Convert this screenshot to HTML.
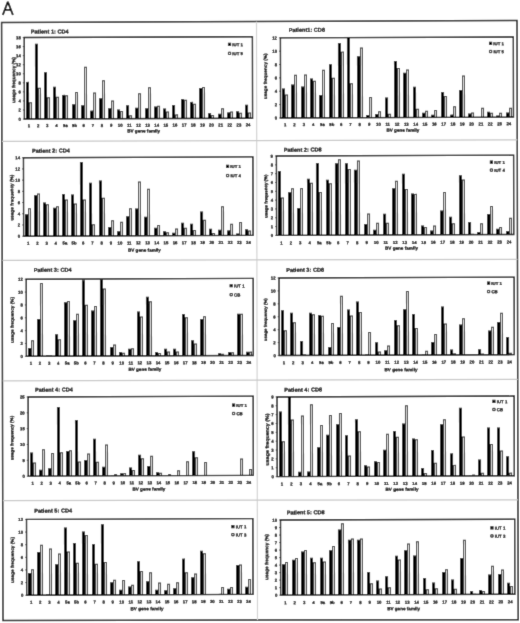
<!DOCTYPE html>
<html><head><meta charset="utf-8"><style>
html,body{margin:0;padding:0;background:#fff;}
body{width:520px;height:623px;overflow:hidden;}
svg{display:block;}
#w{filter:grayscale(1);width:520px;height:623px;}
text{font-family:"Liberation Sans",sans-serif;fill:#000;stroke:#000;stroke-width:0.25px;}
</style></head><body>
<div id="w"><svg width="520" height="623" viewBox="0 0 520 623">
<defs><filter id="bl" x="0" y="0" width="520" height="623" filterUnits="userSpaceOnUse"><feConvolveMatrix order="3" kernelMatrix="0.0114 0.084 0.0114 0.084 0.618 0.084 0.0114 0.084 0.0114" edgeMode="duplicate" preserveAlpha="true"/></filter></defs><g filter="url(#bl)"><rect width="520" height="623" fill="#fff"/>
<path d="M2.8,15.0 L7.85,1.75 L12.9,15.0 M4.9,9.85 H10.8" fill="none" stroke="#000" stroke-width="1.9" stroke-linejoin="bevel"/>
<polygon points="1.6,22.5 517,20.4 518.2,619.7 3.0,620.5" fill="none" stroke="#111" stroke-width="1.5"/>
<line x1="256.5" y1="21.5" x2="257.5" y2="620" stroke="#d4d4d4" stroke-width="1.2"/>
<line x1="2" y1="141.3" x2="517.5" y2="139.8" stroke="#c8c8c8" stroke-width="1.2"/>
<line x1="2.3" y1="260.4" x2="517.6" y2="259.3" stroke="#c8c8c8" stroke-width="1.2"/>
<line x1="2.5" y1="380.8" x2="517.8" y2="379.3" stroke="#c8c8c8" stroke-width="1.2"/>
<line x1="2.9" y1="500.6" x2="518" y2="499.8" stroke="#c8c8c8" stroke-width="1.2"/>
<g transform="translate(138.4 77.85) matrix(1 -0.0037 0.0022 1 0 0) translate(-138.4 -77.85)"><rect x="26" y="81.47" width="3" height="37.13" fill="#000"/>
<rect x="29" y="101.85" width="3" height="16.75" fill="#2a2a2a"/>
<rect x="30" y="102.85" width="1" height="15.75" fill="#d8d8d8"/>
<rect x="35" y="43.44" width="3" height="75.16" fill="#000"/>
<rect x="38" y="87.36" width="3" height="31.24" fill="#2a2a2a"/>
<rect x="39" y="88.36" width="1" height="30.24" fill="#d8d8d8"/>
<rect x="44" y="71.96" width="3" height="46.64" fill="#000"/>
<rect x="47" y="96.87" width="3" height="21.73" fill="#2a2a2a"/>
<rect x="48" y="97.87" width="1" height="20.73" fill="#d8d8d8"/>
<rect x="53" y="86.45" width="3" height="32.15" fill="#000"/>
<rect x="56" y="96.41" width="3" height="22.19" fill="#2a2a2a"/>
<rect x="57" y="97.41" width="1" height="21.19" fill="#d8d8d8"/>
<rect x="62" y="94.6" width="3" height="24" fill="#000"/>
<rect x="65" y="95.06" width="3" height="23.54" fill="#2a2a2a"/>
<rect x="66" y="96.06" width="1" height="22.54" fill="#d8d8d8"/>
<rect x="72" y="104.11" width="3" height="14.49" fill="#000"/>
<rect x="75" y="91.89" width="3" height="26.71" fill="#2a2a2a"/>
<rect x="76" y="92.89" width="1" height="25.71" fill="#d8d8d8"/>
<rect x="81" y="105.02" width="3" height="13.58" fill="#000"/>
<rect x="84" y="66.53" width="3" height="52.07" fill="#2a2a2a"/>
<rect x="85" y="67.53" width="1" height="51.07" fill="#d8d8d8"/>
<rect x="90" y="110.45" width="3" height="8.15" fill="#000"/>
<rect x="93" y="92.34" width="3" height="26.26" fill="#2a2a2a"/>
<rect x="94" y="93.34" width="1" height="25.26" fill="#d8d8d8"/>
<rect x="99" y="98.22" width="3" height="20.38" fill="#000"/>
<rect x="102" y="80.11" width="3" height="38.49" fill="#2a2a2a"/>
<rect x="103" y="81.11" width="1" height="37.49" fill="#d8d8d8"/>
<rect x="108" y="108.19" width="3" height="10.41" fill="#000"/>
<rect x="111" y="100.49" width="3" height="18.11" fill="#2a2a2a"/>
<rect x="112" y="101.49" width="1" height="17.11" fill="#d8d8d8"/>
<rect x="117" y="109.54" width="3" height="9.06" fill="#000"/>
<rect x="120" y="110.9" width="3" height="7.7" fill="#2a2a2a"/>
<rect x="121" y="111.9" width="1" height="6.7" fill="#d8d8d8"/>
<rect x="126" y="105.24" width="3" height="13.36" fill="#000"/>
<rect x="129" y="115.2" width="3" height="3.4" fill="#2a2a2a"/>
<rect x="130" y="116.2" width="1" height="2.4" fill="#d8d8d8"/>
<rect x="135" y="107.73" width="3" height="10.87" fill="#000"/>
<rect x="138" y="93.24" width="3" height="25.36" fill="#2a2a2a"/>
<rect x="139" y="94.24" width="1" height="24.36" fill="#d8d8d8"/>
<rect x="145" y="108.19" width="3" height="10.41" fill="#000"/>
<rect x="148" y="87.36" width="3" height="31.24" fill="#2a2a2a"/>
<rect x="149" y="88.36" width="1" height="30.24" fill="#d8d8d8"/>
<rect x="154" y="106.6" width="3" height="12" fill="#000"/>
<rect x="157" y="105.92" width="3" height="12.68" fill="#2a2a2a"/>
<rect x="158" y="106.92" width="1" height="11.68" fill="#d8d8d8"/>
<rect x="163" y="108.64" width="3" height="9.96" fill="#000"/>
<rect x="166" y="111.58" width="3" height="7.02" fill="#2a2a2a"/>
<rect x="167" y="112.58" width="1" height="6.02" fill="#d8d8d8"/>
<rect x="172" y="105.24" width="3" height="13.36" fill="#000"/>
<rect x="175" y="114.52" width="3" height="4.08" fill="#2a2a2a"/>
<rect x="176" y="115.52" width="1" height="3.08" fill="#d8d8d8"/>
<rect x="181" y="99.13" width="3" height="19.47" fill="#000"/>
<rect x="184" y="99.81" width="3" height="18.79" fill="#2a2a2a"/>
<rect x="185" y="100.81" width="1" height="17.79" fill="#d8d8d8"/>
<rect x="190" y="102.07" width="3" height="16.53" fill="#000"/>
<rect x="193" y="103.88" width="3" height="14.72" fill="#2a2a2a"/>
<rect x="194" y="104.88" width="1" height="13.72" fill="#d8d8d8"/>
<rect x="199" y="88.26" width="3" height="30.34" fill="#000"/>
<rect x="202" y="87.36" width="3" height="31.24" fill="#2a2a2a"/>
<rect x="203" y="88.36" width="1" height="30.24" fill="#d8d8d8"/>
<rect x="208" y="113.39" width="3" height="5.21" fill="#000"/>
<rect x="211" y="115.2" width="3" height="3.4" fill="#2a2a2a"/>
<rect x="212" y="116.2" width="1" height="2.4" fill="#d8d8d8"/>
<rect x="218" y="114.07" width="3" height="4.53" fill="#000"/>
<rect x="221" y="108.64" width="3" height="9.96" fill="#2a2a2a"/>
<rect x="222" y="109.64" width="1" height="8.96" fill="#d8d8d8"/>
<rect x="227" y="112.71" width="3" height="5.89" fill="#000"/>
<rect x="230" y="111.81" width="3" height="6.79" fill="#2a2a2a"/>
<rect x="231" y="112.81" width="1" height="5.79" fill="#d8d8d8"/>
<rect x="236" y="111.58" width="3" height="7.02" fill="#000"/>
<rect x="239" y="113.17" width="3" height="5.43" fill="#2a2a2a"/>
<rect x="240" y="114.17" width="1" height="4.43" fill="#d8d8d8"/>
<rect x="245" y="105.24" width="3" height="13.36" fill="#000"/>
<rect x="248" y="112.94" width="3" height="5.66" fill="#2a2a2a"/>
<rect x="249" y="113.94" width="1" height="4.66" fill="#d8d8d8"/>
<rect x="24.3" y="37.1" width="228.2" height="81.5" fill="none" stroke="#000" stroke-width="1.4"/>
<line x1="22.8" y1="118.6" x2="24.3" y2="118.6" stroke="#000" stroke-width="0.6"/>
<text x="20.9" y="120.2" text-anchor="end" font-size="4.3" font-weight="bold">0</text>
<line x1="22.8" y1="109.54" x2="24.3" y2="109.54" stroke="#000" stroke-width="0.6"/>
<text x="20.9" y="111.14" text-anchor="end" font-size="4.3" font-weight="bold">2</text>
<line x1="22.8" y1="100.49" x2="24.3" y2="100.49" stroke="#000" stroke-width="0.6"/>
<text x="20.9" y="102.09" text-anchor="end" font-size="4.3" font-weight="bold">4</text>
<line x1="22.8" y1="91.43" x2="24.3" y2="91.43" stroke="#000" stroke-width="0.6"/>
<text x="20.9" y="93.03" text-anchor="end" font-size="4.3" font-weight="bold">6</text>
<line x1="22.8" y1="82.38" x2="24.3" y2="82.38" stroke="#000" stroke-width="0.6"/>
<text x="20.9" y="83.98" text-anchor="end" font-size="4.3" font-weight="bold">8</text>
<line x1="22.8" y1="73.32" x2="24.3" y2="73.32" stroke="#000" stroke-width="0.6"/>
<text x="20.9" y="74.92" text-anchor="end" font-size="4.3" font-weight="bold">10</text>
<line x1="22.8" y1="64.27" x2="24.3" y2="64.27" stroke="#000" stroke-width="0.6"/>
<text x="20.9" y="65.87" text-anchor="end" font-size="4.3" font-weight="bold">12</text>
<line x1="22.8" y1="55.21" x2="24.3" y2="55.21" stroke="#000" stroke-width="0.6"/>
<text x="20.9" y="56.81" text-anchor="end" font-size="4.3" font-weight="bold">14</text>
<line x1="22.8" y1="46.16" x2="24.3" y2="46.16" stroke="#000" stroke-width="0.6"/>
<text x="20.9" y="47.76" text-anchor="end" font-size="4.3" font-weight="bold">16</text>
<line x1="22.8" y1="37.1" x2="24.3" y2="37.1" stroke="#000" stroke-width="0.6"/>
<text x="20.9" y="38.7" text-anchor="end" font-size="4.3" font-weight="bold">18</text>
<text x="28.86" y="126.75" text-anchor="middle" font-size="4.3" font-weight="bold">1</text>
<text x="37.99" y="126.75" text-anchor="middle" font-size="4.3" font-weight="bold">2</text>
<text x="47.12" y="126.75" text-anchor="middle" font-size="4.3" font-weight="bold">3</text>
<text x="56.25" y="126.75" text-anchor="middle" font-size="4.3" font-weight="bold">4</text>
<text x="65.38" y="126.75" text-anchor="middle" font-size="4.3" font-weight="bold">5a</text>
<text x="74.5" y="126.75" text-anchor="middle" font-size="4.3" font-weight="bold">5b</text>
<text x="83.63" y="126.75" text-anchor="middle" font-size="4.3" font-weight="bold">6</text>
<text x="92.76" y="126.75" text-anchor="middle" font-size="4.3" font-weight="bold">7</text>
<text x="101.89" y="126.75" text-anchor="middle" font-size="4.3" font-weight="bold">8</text>
<text x="111.02" y="126.75" text-anchor="middle" font-size="4.3" font-weight="bold">9</text>
<text x="120.14" y="126.75" text-anchor="middle" font-size="4.3" font-weight="bold">10</text>
<text x="129.27" y="126.75" text-anchor="middle" font-size="4.3" font-weight="bold">11</text>
<text x="138.4" y="126.75" text-anchor="middle" font-size="4.3" font-weight="bold">12</text>
<text x="147.53" y="126.75" text-anchor="middle" font-size="4.3" font-weight="bold">13</text>
<text x="156.66" y="126.75" text-anchor="middle" font-size="4.3" font-weight="bold">14</text>
<text x="165.78" y="126.75" text-anchor="middle" font-size="4.3" font-weight="bold">15</text>
<text x="174.91" y="126.75" text-anchor="middle" font-size="4.3" font-weight="bold">16</text>
<text x="184.04" y="126.75" text-anchor="middle" font-size="4.3" font-weight="bold">17</text>
<text x="193.17" y="126.75" text-anchor="middle" font-size="4.3" font-weight="bold">18</text>
<text x="202.3" y="126.75" text-anchor="middle" font-size="4.3" font-weight="bold">19</text>
<text x="211.42" y="126.75" text-anchor="middle" font-size="4.3" font-weight="bold">20</text>
<text x="220.55" y="126.75" text-anchor="middle" font-size="4.3" font-weight="bold">21</text>
<text x="229.68" y="126.75" text-anchor="middle" font-size="4.3" font-weight="bold">22</text>
<text x="238.81" y="126.75" text-anchor="middle" font-size="4.3" font-weight="bold">23</text>
<text x="247.94" y="126.75" text-anchor="middle" font-size="4.3" font-weight="bold">24</text>
<text x="143.55" y="132.5" text-anchor="middle" font-size="4.6" font-weight="bold">BV gene family</text>
<text x="15.2" y="79.6" text-anchor="middle" font-size="4.7" font-weight="bold" transform="rotate(-90 15.2 79.6)">usage frequency (%)</text>
<text x="30.8" y="33.2" font-size="5.6" font-weight="bold">Patient 1: CD4</text>
<rect x="228" y="43.2" width="3.2" height="3.2" fill="#000"/>
<rect x="228.45" y="52.55" width="2.3" height="2.3" fill="#eee" stroke="#000" stroke-width="0.95"/>
<text x="232.4" y="46.6" font-size="4.35" font-weight="bold">IUT 1</text>
<text x="232.4" y="55.5" font-size="4.35" font-weight="bold">IUT 5</text></g>
<g transform="translate(138.28 196.53) matrix(1 -0.0037 0.0022 1 0 0) translate(-138.28 -196.53)"><rect x="25" y="213.9" width="3" height="21.85" fill="#000"/>
<rect x="28" y="207.73" width="3" height="28.02" fill="#2a2a2a"/>
<rect x="29" y="208.73" width="1" height="27.02" fill="#d8d8d8"/>
<rect x="34" y="194.84" width="3" height="40.91" fill="#000"/>
<rect x="37" y="193.16" width="3" height="42.59" fill="#2a2a2a"/>
<rect x="38" y="194.16" width="1" height="41.59" fill="#d8d8d8"/>
<rect x="43" y="202.13" width="3" height="33.62" fill="#000"/>
<rect x="46" y="203.81" width="3" height="31.94" fill="#2a2a2a"/>
<rect x="47" y="204.81" width="1" height="30.94" fill="#d8d8d8"/>
<rect x="53" y="207.45" width="3" height="28.3" fill="#000"/>
<rect x="56" y="206.05" width="3" height="29.7" fill="#2a2a2a"/>
<rect x="57" y="207.05" width="1" height="28.7" fill="#d8d8d8"/>
<rect x="62" y="193.72" width="3" height="42.03" fill="#000"/>
<rect x="65" y="199.33" width="3" height="36.42" fill="#2a2a2a"/>
<rect x="66" y="200.33" width="1" height="35.42" fill="#d8d8d8"/>
<rect x="71" y="194.28" width="3" height="41.47" fill="#000"/>
<rect x="74" y="203.25" width="3" height="32.5" fill="#2a2a2a"/>
<rect x="75" y="204.25" width="1" height="31.5" fill="#d8d8d8"/>
<rect x="80" y="161.78" width="3" height="73.97" fill="#000"/>
<rect x="83" y="199.33" width="3" height="36.42" fill="#2a2a2a"/>
<rect x="84" y="200.33" width="1" height="35.42" fill="#d8d8d8"/>
<rect x="89" y="182.52" width="3" height="53.23" fill="#000"/>
<rect x="92" y="223.98" width="3" height="11.77" fill="#2a2a2a"/>
<rect x="93" y="224.98" width="1" height="10.77" fill="#d8d8d8"/>
<rect x="99" y="180.27" width="3" height="55.48" fill="#000"/>
<rect x="102" y="197.65" width="3" height="38.1" fill="#2a2a2a"/>
<rect x="103" y="198.65" width="1" height="37.1" fill="#d8d8d8"/>
<rect x="108" y="226.78" width="3" height="8.97" fill="#000"/>
<rect x="111" y="220.06" width="3" height="15.69" fill="#2a2a2a"/>
<rect x="112" y="221.06" width="1" height="14.69" fill="#d8d8d8"/>
<rect x="117" y="231.27" width="3" height="4.48" fill="#000"/>
<rect x="120" y="221.74" width="3" height="14.01" fill="#2a2a2a"/>
<rect x="121" y="222.74" width="1" height="13.01" fill="#d8d8d8"/>
<rect x="126" y="216.14" width="3" height="19.61" fill="#000"/>
<rect x="129" y="208.29" width="3" height="27.46" fill="#2a2a2a"/>
<rect x="130" y="209.29" width="1" height="26.46" fill="#d8d8d8"/>
<rect x="135" y="208.57" width="3" height="27.18" fill="#000"/>
<rect x="138" y="181.4" width="3" height="54.35" fill="#2a2a2a"/>
<rect x="139" y="182.4" width="1" height="53.35" fill="#d8d8d8"/>
<rect x="144" y="216.7" width="3" height="19.05" fill="#000"/>
<rect x="147" y="188.68" width="3" height="47.07" fill="#2a2a2a"/>
<rect x="148" y="189.68" width="1" height="46.07" fill="#d8d8d8"/>
<rect x="154" y="227.91" width="3" height="7.84" fill="#000"/>
<rect x="157" y="225.1" width="3" height="10.65" fill="#2a2a2a"/>
<rect x="158" y="226.1" width="1" height="9.65" fill="#d8d8d8"/>
<rect x="163" y="231.27" width="3" height="4.48" fill="#000"/>
<rect x="166" y="232.39" width="3" height="3.36" fill="#2a2a2a"/>
<rect x="167" y="233.39" width="1" height="2.36" fill="#d8d8d8"/>
<rect x="172" y="232.95" width="3" height="2.8" fill="#000"/>
<rect x="175" y="228.75" width="3" height="7" fill="#2a2a2a"/>
<rect x="176" y="229.75" width="1" height="6" fill="#d8d8d8"/>
<rect x="181" y="222.86" width="3" height="12.89" fill="#000"/>
<rect x="184" y="227.91" width="3" height="7.84" fill="#2a2a2a"/>
<rect x="185" y="228.91" width="1" height="6.84" fill="#d8d8d8"/>
<rect x="190" y="223.98" width="3" height="11.77" fill="#000"/>
<rect x="193" y="230.15" width="3" height="5.6" fill="#2a2a2a"/>
<rect x="194" y="231.15" width="1" height="4.6" fill="#d8d8d8"/>
<rect x="200" y="211.65" width="3" height="24.1" fill="#000"/>
<rect x="203" y="220.06" width="3" height="15.69" fill="#2a2a2a"/>
<rect x="204" y="221.06" width="1" height="14.69" fill="#d8d8d8"/>
<rect x="209" y="229.03" width="3" height="6.72" fill="#000"/>
<rect x="212" y="233.23" width="3" height="2.52" fill="#2a2a2a"/>
<rect x="213" y="234.23" width="1" height="1.52" fill="#d8d8d8"/>
<rect x="218" y="230.15" width="3" height="5.6" fill="#000"/>
<rect x="221" y="206.61" width="3" height="29.14" fill="#2a2a2a"/>
<rect x="222" y="207.61" width="1" height="28.14" fill="#d8d8d8"/>
<rect x="227" y="230.71" width="3" height="5.04" fill="#000"/>
<rect x="230" y="223.98" width="3" height="11.77" fill="#2a2a2a"/>
<rect x="231" y="224.98" width="1" height="10.77" fill="#d8d8d8"/>
<rect x="236" y="233.79" width="3" height="1.96" fill="#000"/>
<rect x="239" y="222.3" width="3" height="13.45" fill="#2a2a2a"/>
<rect x="240" y="223.3" width="1" height="12.45" fill="#d8d8d8"/>
<rect x="245" y="229.59" width="3" height="6.16" fill="#000"/>
<rect x="248" y="230.99" width="3" height="4.76" fill="#2a2a2a"/>
<rect x="249" y="231.99" width="1" height="3.76" fill="#d8d8d8"/>
<rect x="23.55" y="157.3" width="229.45" height="78.45" fill="none" stroke="#000" stroke-width="1.4"/>
<line x1="22.05" y1="235.75" x2="23.55" y2="235.75" stroke="#000" stroke-width="0.6"/>
<text x="20.15" y="237.35" text-anchor="end" font-size="4.3" font-weight="bold">0</text>
<line x1="22.05" y1="224.54" x2="23.55" y2="224.54" stroke="#000" stroke-width="0.6"/>
<text x="20.15" y="226.14" text-anchor="end" font-size="4.3" font-weight="bold">2</text>
<line x1="22.05" y1="213.34" x2="23.55" y2="213.34" stroke="#000" stroke-width="0.6"/>
<text x="20.15" y="214.94" text-anchor="end" font-size="4.3" font-weight="bold">4</text>
<line x1="22.05" y1="202.13" x2="23.55" y2="202.13" stroke="#000" stroke-width="0.6"/>
<text x="20.15" y="203.73" text-anchor="end" font-size="4.3" font-weight="bold">6</text>
<line x1="22.05" y1="190.92" x2="23.55" y2="190.92" stroke="#000" stroke-width="0.6"/>
<text x="20.15" y="192.52" text-anchor="end" font-size="4.3" font-weight="bold">8</text>
<line x1="22.05" y1="179.71" x2="23.55" y2="179.71" stroke="#000" stroke-width="0.6"/>
<text x="20.15" y="181.31" text-anchor="end" font-size="4.3" font-weight="bold">10</text>
<line x1="22.05" y1="168.51" x2="23.55" y2="168.51" stroke="#000" stroke-width="0.6"/>
<text x="20.15" y="170.11" text-anchor="end" font-size="4.3" font-weight="bold">12</text>
<line x1="22.05" y1="157.3" x2="23.55" y2="157.3" stroke="#000" stroke-width="0.6"/>
<text x="20.15" y="158.9" text-anchor="end" font-size="4.3" font-weight="bold">14</text>
<text x="28.14" y="244.35" text-anchor="middle" font-size="4.3" font-weight="bold">1</text>
<text x="37.32" y="244.35" text-anchor="middle" font-size="4.3" font-weight="bold">2</text>
<text x="46.49" y="244.35" text-anchor="middle" font-size="4.3" font-weight="bold">3</text>
<text x="55.67" y="244.35" text-anchor="middle" font-size="4.3" font-weight="bold">4</text>
<text x="64.85" y="244.35" text-anchor="middle" font-size="4.3" font-weight="bold">5a</text>
<text x="74.03" y="244.35" text-anchor="middle" font-size="4.3" font-weight="bold">5b</text>
<text x="83.21" y="244.35" text-anchor="middle" font-size="4.3" font-weight="bold">6</text>
<text x="92.38" y="244.35" text-anchor="middle" font-size="4.3" font-weight="bold">7</text>
<text x="101.56" y="244.35" text-anchor="middle" font-size="4.3" font-weight="bold">8</text>
<text x="110.74" y="244.35" text-anchor="middle" font-size="4.3" font-weight="bold">9</text>
<text x="119.92" y="244.35" text-anchor="middle" font-size="4.3" font-weight="bold">10</text>
<text x="129.1" y="244.35" text-anchor="middle" font-size="4.3" font-weight="bold">11</text>
<text x="138.28" y="244.35" text-anchor="middle" font-size="4.3" font-weight="bold">12</text>
<text x="147.45" y="244.35" text-anchor="middle" font-size="4.3" font-weight="bold">13</text>
<text x="156.63" y="244.35" text-anchor="middle" font-size="4.3" font-weight="bold">14</text>
<text x="165.81" y="244.35" text-anchor="middle" font-size="4.3" font-weight="bold">15</text>
<text x="174.99" y="244.35" text-anchor="middle" font-size="4.3" font-weight="bold">16</text>
<text x="184.16" y="244.35" text-anchor="middle" font-size="4.3" font-weight="bold">17</text>
<text x="193.34" y="244.35" text-anchor="middle" font-size="4.3" font-weight="bold">18</text>
<text x="202.52" y="244.35" text-anchor="middle" font-size="4.3" font-weight="bold">19</text>
<text x="211.7" y="244.35" text-anchor="middle" font-size="4.3" font-weight="bold">20</text>
<text x="220.88" y="244.35" text-anchor="middle" font-size="4.3" font-weight="bold">21</text>
<text x="230.05" y="244.35" text-anchor="middle" font-size="4.3" font-weight="bold">22</text>
<text x="239.23" y="244.35" text-anchor="middle" font-size="4.3" font-weight="bold">23</text>
<text x="248.41" y="244.35" text-anchor="middle" font-size="4.3" font-weight="bold">24</text>
<text x="144.3" y="251.7" text-anchor="middle" font-size="4.6" font-weight="bold">BV gene family</text>
<text x="13.4" y="197.2" text-anchor="middle" font-size="4.7" font-weight="bold" transform="rotate(-90 13.4 197.2)">usage frequency (%)</text>
<text x="32" y="152.3" font-size="5.6" font-weight="bold">Patient 2: CD4</text>
<rect x="226.05" y="165.05" width="3.2" height="3.2" fill="#000"/>
<rect x="226.5" y="174.75" width="2.3" height="2.3" fill="#eee" stroke="#000" stroke-width="0.95"/>
<text x="230.45" y="168.45" font-size="4.35" font-weight="bold">IUT 1</text>
<text x="230.45" y="177.7" font-size="4.35" font-weight="bold">IUT 4</text></g>
<g transform="translate(139.78 317.35) matrix(1 -0.0037 0.0022 1 0 0) translate(-139.78 -317.35)"><rect x="28" y="347.55" width="3" height="8.35" fill="#000"/>
<rect x="31" y="339.84" width="3" height="16.06" fill="#2a2a2a"/>
<rect x="32" y="340.84" width="1" height="15.06" fill="#d8d8d8"/>
<rect x="37" y="318.63" width="3" height="37.26" fill="#000"/>
<rect x="40" y="282.65" width="3" height="73.24" fill="#2a2a2a"/>
<rect x="41" y="283.65" width="1" height="72.24" fill="#d8d8d8"/>
<rect x="46" y="354.61" width="3" height="1.28" fill="#000"/>
<rect x="49" y="354.61" width="3" height="1.28" fill="#333"/>
<rect x="55" y="334.06" width="3" height="21.84" fill="#000"/>
<rect x="58" y="338.87" width="3" height="17.03" fill="#2a2a2a"/>
<rect x="59" y="339.87" width="1" height="16.03" fill="#d8d8d8"/>
<rect x="64" y="301.93" width="3" height="53.97" fill="#000"/>
<rect x="67" y="300.64" width="3" height="55.25" fill="#2a2a2a"/>
<rect x="68" y="301.64" width="1" height="54.25" fill="#d8d8d8"/>
<rect x="73" y="319.92" width="3" height="35.98" fill="#000"/>
<rect x="76" y="313.5" width="3" height="42.4" fill="#2a2a2a"/>
<rect x="77" y="314.5" width="1" height="41.4" fill="#d8d8d8"/>
<rect x="82" y="280.09" width="3" height="75.81" fill="#000"/>
<rect x="85" y="304.5" width="3" height="51.4" fill="#2a2a2a"/>
<rect x="86" y="305.5" width="1" height="50.4" fill="#d8d8d8"/>
<rect x="91" y="310.28" width="3" height="45.62" fill="#000"/>
<rect x="94" y="305.79" width="3" height="50.11" fill="#2a2a2a"/>
<rect x="95" y="306.79" width="1" height="49.11" fill="#d8d8d8"/>
<rect x="100" y="279.44" width="3" height="76.46" fill="#000"/>
<rect x="103" y="288.44" width="3" height="67.46" fill="#2a2a2a"/>
<rect x="104" y="289.44" width="1" height="66.46" fill="#d8d8d8"/>
<rect x="110" y="346.9" width="3" height="8.99" fill="#000"/>
<rect x="113" y="344.33" width="3" height="11.56" fill="#2a2a2a"/>
<rect x="114" y="345.33" width="1" height="10.56" fill="#d8d8d8"/>
<rect x="119" y="352.04" width="3" height="3.85" fill="#000"/>
<rect x="122" y="352.69" width="3" height="3.21" fill="#2a2a2a"/>
<rect x="123" y="353.69" width="1" height="2.21" fill="#d8d8d8"/>
<rect x="128" y="348.83" width="3" height="7.07" fill="#000"/>
<rect x="131" y="348.19" width="3" height="7.71" fill="#2a2a2a"/>
<rect x="132" y="349.19" width="1" height="6.71" fill="#d8d8d8"/>
<rect x="137" y="311.57" width="3" height="44.33" fill="#000"/>
<rect x="140" y="316.39" width="3" height="39.51" fill="#2a2a2a"/>
<rect x="141" y="317.39" width="1" height="38.51" fill="#d8d8d8"/>
<rect x="146" y="296.79" width="3" height="59.11" fill="#000"/>
<rect x="149" y="301.29" width="3" height="54.61" fill="#2a2a2a"/>
<rect x="150" y="302.29" width="1" height="53.61" fill="#d8d8d8"/>
<rect x="155" y="352.04" width="3" height="3.85" fill="#000"/>
<rect x="158" y="353.01" width="3" height="2.89" fill="#2a2a2a"/>
<rect x="159" y="354.01" width="1" height="1.89" fill="#d8d8d8"/>
<rect x="164" y="348.83" width="3" height="7.07" fill="#000"/>
<rect x="167" y="351.72" width="3" height="4.18" fill="#2a2a2a"/>
<rect x="168" y="352.72" width="1" height="3.18" fill="#d8d8d8"/>
<rect x="173" y="348.83" width="3" height="7.07" fill="#000"/>
<rect x="176" y="351.72" width="3" height="4.18" fill="#2a2a2a"/>
<rect x="177" y="352.72" width="1" height="3.18" fill="#d8d8d8"/>
<rect x="182" y="314.14" width="3" height="41.76" fill="#000"/>
<rect x="185" y="317.35" width="3" height="38.55" fill="#2a2a2a"/>
<rect x="186" y="318.35" width="1" height="37.55" fill="#d8d8d8"/>
<rect x="191" y="340.48" width="3" height="15.42" fill="#000"/>
<rect x="194" y="343.69" width="3" height="12.21" fill="#2a2a2a"/>
<rect x="195" y="344.69" width="1" height="11.21" fill="#d8d8d8"/>
<rect x="200" y="319.28" width="3" height="36.62" fill="#000"/>
<rect x="203" y="316.39" width="3" height="39.51" fill="#2a2a2a"/>
<rect x="204" y="317.39" width="1" height="38.51" fill="#d8d8d8"/>
<rect x="209" y="355.26" width="3" height="0.64" fill="#000"/>
<rect x="212" y="355.26" width="3" height="0.64" fill="#333"/>
<rect x="218" y="353.65" width="3" height="2.25" fill="#000"/>
<rect x="221" y="353.97" width="3" height="1.93" fill="#333"/>
<rect x="228" y="352.37" width="3" height="3.53" fill="#000"/>
<rect x="231" y="352.69" width="3" height="3.21" fill="#2a2a2a"/>
<rect x="232" y="353.69" width="1" height="2.21" fill="#d8d8d8"/>
<rect x="237" y="314.14" width="3" height="41.76" fill="#000"/>
<rect x="240" y="314.14" width="3" height="41.76" fill="#2a2a2a"/>
<rect x="241" y="315.14" width="1" height="40.76" fill="#d8d8d8"/>
<rect x="246" y="352.04" width="3" height="3.85" fill="#000"/>
<rect x="249" y="352.04" width="3" height="3.85" fill="#2a2a2a"/>
<rect x="250" y="353.04" width="1" height="2.85" fill="#d8d8d8"/>
<rect x="26.3" y="278.8" width="226.95" height="77.1" fill="none" stroke="#000" stroke-width="1.4"/>
<line x1="24.8" y1="355.9" x2="26.3" y2="355.9" stroke="#000" stroke-width="0.6"/>
<text x="22.9" y="357.5" text-anchor="end" font-size="4.3" font-weight="bold">0</text>
<line x1="24.8" y1="343.05" x2="26.3" y2="343.05" stroke="#000" stroke-width="0.6"/>
<text x="22.9" y="344.65" text-anchor="end" font-size="4.3" font-weight="bold">2</text>
<line x1="24.8" y1="330.2" x2="26.3" y2="330.2" stroke="#000" stroke-width="0.6"/>
<text x="22.9" y="331.8" text-anchor="end" font-size="4.3" font-weight="bold">4</text>
<line x1="24.8" y1="317.35" x2="26.3" y2="317.35" stroke="#000" stroke-width="0.6"/>
<text x="22.9" y="318.95" text-anchor="end" font-size="4.3" font-weight="bold">6</text>
<line x1="24.8" y1="304.5" x2="26.3" y2="304.5" stroke="#000" stroke-width="0.6"/>
<text x="22.9" y="306.1" text-anchor="end" font-size="4.3" font-weight="bold">8</text>
<line x1="24.8" y1="291.65" x2="26.3" y2="291.65" stroke="#000" stroke-width="0.6"/>
<text x="22.9" y="293.25" text-anchor="end" font-size="4.3" font-weight="bold">10</text>
<line x1="24.8" y1="278.8" x2="26.3" y2="278.8" stroke="#000" stroke-width="0.6"/>
<text x="22.9" y="280.4" text-anchor="end" font-size="4.3" font-weight="bold">12</text>
<text x="30.84" y="364.35" text-anchor="middle" font-size="4.3" font-weight="bold">1</text>
<text x="39.92" y="364.35" text-anchor="middle" font-size="4.3" font-weight="bold">2</text>
<text x="49" y="364.35" text-anchor="middle" font-size="4.3" font-weight="bold">3</text>
<text x="58.07" y="364.35" text-anchor="middle" font-size="4.3" font-weight="bold">4</text>
<text x="67.15" y="364.35" text-anchor="middle" font-size="4.3" font-weight="bold">5a</text>
<text x="76.23" y="364.35" text-anchor="middle" font-size="4.3" font-weight="bold">5b</text>
<text x="85.31" y="364.35" text-anchor="middle" font-size="4.3" font-weight="bold">6</text>
<text x="94.38" y="364.35" text-anchor="middle" font-size="4.3" font-weight="bold">7</text>
<text x="103.46" y="364.35" text-anchor="middle" font-size="4.3" font-weight="bold">8</text>
<text x="112.54" y="364.35" text-anchor="middle" font-size="4.3" font-weight="bold">9</text>
<text x="121.62" y="364.35" text-anchor="middle" font-size="4.3" font-weight="bold">10</text>
<text x="130.7" y="364.35" text-anchor="middle" font-size="4.3" font-weight="bold">11</text>
<text x="139.78" y="364.35" text-anchor="middle" font-size="4.3" font-weight="bold">12</text>
<text x="148.85" y="364.35" text-anchor="middle" font-size="4.3" font-weight="bold">13</text>
<text x="157.93" y="364.35" text-anchor="middle" font-size="4.3" font-weight="bold">14</text>
<text x="167.01" y="364.35" text-anchor="middle" font-size="4.3" font-weight="bold">15</text>
<text x="176.09" y="364.35" text-anchor="middle" font-size="4.3" font-weight="bold">16</text>
<text x="185.16" y="364.35" text-anchor="middle" font-size="4.3" font-weight="bold">17</text>
<text x="194.24" y="364.35" text-anchor="middle" font-size="4.3" font-weight="bold">18</text>
<text x="203.32" y="364.35" text-anchor="middle" font-size="4.3" font-weight="bold">19</text>
<text x="212.4" y="364.35" text-anchor="middle" font-size="4.3" font-weight="bold">20</text>
<text x="221.48" y="364.35" text-anchor="middle" font-size="4.3" font-weight="bold">21</text>
<text x="230.56" y="364.35" text-anchor="middle" font-size="4.3" font-weight="bold">22</text>
<text x="239.63" y="364.35" text-anchor="middle" font-size="4.3" font-weight="bold">23</text>
<text x="248.71" y="364.35" text-anchor="middle" font-size="4.3" font-weight="bold">24</text>
<text x="144.75" y="370.9" text-anchor="middle" font-size="4.6" font-weight="bold">BV gene family</text>
<text x="13.7" y="319.5" text-anchor="middle" font-size="4.7" font-weight="bold" transform="rotate(-90 13.7 319.5)">usage frequency (%)</text>
<text x="33.75" y="271.5" font-size="5.6" font-weight="bold">Patient 3: CD4</text>
<rect x="229.65" y="284.5" width="3.2" height="3.2" fill="#000"/>
<rect x="230.1" y="293.85" width="2.3" height="2.3" fill="#eee" stroke="#000" stroke-width="0.95"/>
<text x="234.05" y="287.9" font-size="4.35" font-weight="bold">IUT 1</text>
<text x="234.05" y="296.8" font-size="4.35" font-weight="bold">CB</text></g>
<g transform="translate(140.72 436.15) matrix(1 -0.0037 0.0022 1 0 0) translate(-140.72 -436.15)"><rect x="30" y="451.99" width="3" height="23.76" fill="#000"/>
<rect x="33" y="462.13" width="3" height="13.62" fill="#2a2a2a"/>
<rect x="34" y="463.13" width="1" height="12.62" fill="#d8d8d8"/>
<rect x="39" y="469.41" width="3" height="6.34" fill="#000"/>
<rect x="42" y="448.82" width="3" height="26.93" fill="#2a2a2a"/>
<rect x="43" y="449.82" width="1" height="25.93" fill="#d8d8d8"/>
<rect x="48" y="467.83" width="3" height="7.92" fill="#000"/>
<rect x="51" y="452.62" width="3" height="23.13" fill="#2a2a2a"/>
<rect x="52" y="453.62" width="1" height="22.13" fill="#d8d8d8"/>
<rect x="57" y="406.69" width="3" height="69.06" fill="#000"/>
<rect x="60" y="451.99" width="3" height="23.76" fill="#2a2a2a"/>
<rect x="61" y="452.99" width="1" height="22.76" fill="#d8d8d8"/>
<rect x="66" y="450.72" width="3" height="25.03" fill="#000"/>
<rect x="69" y="450.09" width="3" height="25.66" fill="#2a2a2a"/>
<rect x="70" y="451.09" width="1" height="24.66" fill="#d8d8d8"/>
<rect x="75" y="419.68" width="3" height="56.07" fill="#000"/>
<rect x="78" y="461.18" width="3" height="14.57" fill="#2a2a2a"/>
<rect x="79" y="462.18" width="1" height="13.57" fill="#d8d8d8"/>
<rect x="84" y="459.91" width="3" height="15.84" fill="#000"/>
<rect x="87" y="453.26" width="3" height="22.49" fill="#2a2a2a"/>
<rect x="88" y="454.26" width="1" height="21.49" fill="#d8d8d8"/>
<rect x="93" y="438.68" width="3" height="37.07" fill="#000"/>
<rect x="96" y="461.49" width="3" height="14.26" fill="#2a2a2a"/>
<rect x="97" y="462.49" width="1" height="13.26" fill="#d8d8d8"/>
<rect x="102" y="466.56" width="3" height="9.19" fill="#000"/>
<rect x="105" y="444.39" width="3" height="31.36" fill="#2a2a2a"/>
<rect x="106" y="445.39" width="1" height="30.36" fill="#d8d8d8"/>
<rect x="111" y="474.96" width="3" height="0.79" fill="#000"/>
<rect x="114" y="473.85" width="3" height="1.9" fill="#333"/>
<rect x="120" y="473.06" width="3" height="2.69" fill="#000"/>
<rect x="123" y="473.06" width="3" height="2.69" fill="#2a2a2a"/>
<rect x="124" y="474.06" width="1" height="1.69" fill="#d8d8d8"/>
<rect x="129" y="467.51" width="3" height="8.24" fill="#000"/>
<rect x="132" y="469.89" width="3" height="5.86" fill="#2a2a2a"/>
<rect x="133" y="470.89" width="1" height="4.86" fill="#d8d8d8"/>
<rect x="138" y="454.84" width="3" height="20.91" fill="#000"/>
<rect x="141" y="458.33" width="3" height="17.42" fill="#2a2a2a"/>
<rect x="142" y="459.33" width="1" height="16.42" fill="#d8d8d8"/>
<rect x="147" y="465.93" width="3" height="9.82" fill="#000"/>
<rect x="150" y="455.79" width="3" height="19.96" fill="#2a2a2a"/>
<rect x="151" y="456.79" width="1" height="18.96" fill="#d8d8d8"/>
<rect x="156" y="472.27" width="3" height="3.48" fill="#000"/>
<rect x="159" y="472.74" width="3" height="3.01" fill="#2a2a2a"/>
<rect x="160" y="473.74" width="1" height="2.01" fill="#d8d8d8"/>
<rect x="165" y="475.27" width="3" height="0.48" fill="#000"/>
<rect x="168" y="474.01" width="3" height="1.74" fill="#333"/>
<rect x="174" y="475.27" width="3" height="0.48" fill="#000"/>
<rect x="177" y="470.36" width="3" height="5.39" fill="#2a2a2a"/>
<rect x="178" y="471.36" width="1" height="4.39" fill="#d8d8d8"/>
<rect x="186" y="461.49" width="3" height="14.26" fill="#2a2a2a"/>
<rect x="187" y="462.49" width="1" height="13.26" fill="#d8d8d8"/>
<rect x="192" y="451.51" width="3" height="24.24" fill="#000"/>
<rect x="195" y="457.38" width="3" height="18.37" fill="#2a2a2a"/>
<rect x="196" y="458.38" width="1" height="17.37" fill="#d8d8d8"/>
<rect x="204" y="462.13" width="3" height="13.62" fill="#2a2a2a"/>
<rect x="205" y="463.13" width="1" height="12.62" fill="#d8d8d8"/>
<rect x="210" y="475.43" width="3" height="0.32" fill="#000"/>
<rect x="213" y="475.43" width="3" height="0.32" fill="#333"/>
<rect x="219" y="475.43" width="3" height="0.32" fill="#000"/>
<rect x="222" y="475.43" width="3" height="0.32" fill="#333"/>
<rect x="228" y="475.43" width="3" height="0.32" fill="#000"/>
<rect x="231" y="475.43" width="3" height="0.32" fill="#333"/>
<rect x="240" y="458.96" width="3" height="16.79" fill="#2a2a2a"/>
<rect x="241" y="459.96" width="1" height="15.79" fill="#d8d8d8"/>
<rect x="249" y="469.41" width="3" height="6.34" fill="#2a2a2a"/>
<rect x="250" y="470.41" width="1" height="5.34" fill="#d8d8d8"/>
<rect x="28.2" y="396.55" width="225.05" height="79.2" fill="none" stroke="#000" stroke-width="1.4"/>
<line x1="26.7" y1="475.75" x2="28.2" y2="475.75" stroke="#000" stroke-width="0.6"/>
<text x="24.8" y="477.35" text-anchor="end" font-size="4.3" font-weight="bold">0</text>
<line x1="26.7" y1="459.91" x2="28.2" y2="459.91" stroke="#000" stroke-width="0.6"/>
<text x="24.8" y="461.51" text-anchor="end" font-size="4.3" font-weight="bold">5</text>
<line x1="26.7" y1="444.07" x2="28.2" y2="444.07" stroke="#000" stroke-width="0.6"/>
<text x="24.8" y="445.67" text-anchor="end" font-size="4.3" font-weight="bold">10</text>
<line x1="26.7" y1="428.23" x2="28.2" y2="428.23" stroke="#000" stroke-width="0.6"/>
<text x="24.8" y="429.83" text-anchor="end" font-size="4.3" font-weight="bold">15</text>
<line x1="26.7" y1="412.39" x2="28.2" y2="412.39" stroke="#000" stroke-width="0.6"/>
<text x="24.8" y="413.99" text-anchor="end" font-size="4.3" font-weight="bold">20</text>
<line x1="26.7" y1="396.55" x2="28.2" y2="396.55" stroke="#000" stroke-width="0.6"/>
<text x="24.8" y="398.15" text-anchor="end" font-size="4.3" font-weight="bold">25</text>
<text x="32.7" y="484.3" text-anchor="middle" font-size="4.3" font-weight="bold">1</text>
<text x="41.7" y="484.3" text-anchor="middle" font-size="4.3" font-weight="bold">2</text>
<text x="50.7" y="484.3" text-anchor="middle" font-size="4.3" font-weight="bold">3</text>
<text x="59.71" y="484.3" text-anchor="middle" font-size="4.3" font-weight="bold">4</text>
<text x="68.71" y="484.3" text-anchor="middle" font-size="4.3" font-weight="bold">5a</text>
<text x="77.71" y="484.3" text-anchor="middle" font-size="4.3" font-weight="bold">5b</text>
<text x="86.71" y="484.3" text-anchor="middle" font-size="4.3" font-weight="bold">6</text>
<text x="95.72" y="484.3" text-anchor="middle" font-size="4.3" font-weight="bold">7</text>
<text x="104.72" y="484.3" text-anchor="middle" font-size="4.3" font-weight="bold">8</text>
<text x="113.72" y="484.3" text-anchor="middle" font-size="4.3" font-weight="bold">9</text>
<text x="122.72" y="484.3" text-anchor="middle" font-size="4.3" font-weight="bold">10</text>
<text x="131.72" y="484.3" text-anchor="middle" font-size="4.3" font-weight="bold">11</text>
<text x="140.72" y="484.3" text-anchor="middle" font-size="4.3" font-weight="bold">12</text>
<text x="149.73" y="484.3" text-anchor="middle" font-size="4.3" font-weight="bold">13</text>
<text x="158.73" y="484.3" text-anchor="middle" font-size="4.3" font-weight="bold">14</text>
<text x="167.73" y="484.3" text-anchor="middle" font-size="4.3" font-weight="bold">15</text>
<text x="176.73" y="484.3" text-anchor="middle" font-size="4.3" font-weight="bold">16</text>
<text x="185.74" y="484.3" text-anchor="middle" font-size="4.3" font-weight="bold">17</text>
<text x="194.74" y="484.3" text-anchor="middle" font-size="4.3" font-weight="bold">18</text>
<text x="203.74" y="484.3" text-anchor="middle" font-size="4.3" font-weight="bold">19</text>
<text x="212.74" y="484.3" text-anchor="middle" font-size="4.3" font-weight="bold">20</text>
<text x="221.74" y="484.3" text-anchor="middle" font-size="4.3" font-weight="bold">21</text>
<text x="230.75" y="484.3" text-anchor="middle" font-size="4.3" font-weight="bold">22</text>
<text x="239.75" y="484.3" text-anchor="middle" font-size="4.3" font-weight="bold">23</text>
<text x="248.75" y="484.3" text-anchor="middle" font-size="4.3" font-weight="bold">24</text>
<text x="148.8" y="490.65" text-anchor="middle" font-size="4.6" font-weight="bold">BV gene family</text>
<text x="13.4" y="437.6" text-anchor="middle" font-size="4.55" font-weight="bold" transform="rotate(-90 13.4 437.6)">usage frequency (%)</text>
<text x="35" y="391.3" font-size="5.6" font-weight="bold">Patient 4: CD4</text>
<rect x="232.05" y="403.9" width="3.2" height="3.2" fill="#000"/>
<rect x="232.5" y="412.7" width="2.3" height="2.3" fill="#eee" stroke="#000" stroke-width="0.95"/>
<text x="236.45" y="407.3" font-size="4.35" font-weight="bold">IUT 1</text>
<text x="236.45" y="415.65" font-size="4.35" font-weight="bold">CB</text></g>
<g transform="translate(139.78 556.9) matrix(1 -0.0037 0.0022 1 0 0) translate(-139.78 -556.9)"><rect x="28" y="572.69" width="3" height="22.11" fill="#000"/>
<rect x="31" y="568.9" width="3" height="25.9" fill="#2a2a2a"/>
<rect x="32" y="569.9" width="1" height="24.9" fill="#d8d8d8"/>
<rect x="37" y="551.53" width="3" height="43.27" fill="#000"/>
<rect x="40" y="544.27" width="3" height="50.53" fill="#2a2a2a"/>
<rect x="41" y="545.27" width="1" height="49.53" fill="#d8d8d8"/>
<rect x="46" y="593.54" width="3" height="1.26" fill="#000"/>
<rect x="49" y="548.06" width="3" height="46.74" fill="#2a2a2a"/>
<rect x="50" y="549.06" width="1" height="45.74" fill="#d8d8d8"/>
<rect x="55" y="563.85" width="3" height="30.95" fill="#000"/>
<rect x="58" y="553.11" width="3" height="41.69" fill="#2a2a2a"/>
<rect x="59" y="554.11" width="1" height="40.69" fill="#d8d8d8"/>
<rect x="64" y="527.21" width="3" height="67.59" fill="#000"/>
<rect x="67" y="551.21" width="3" height="43.58" fill="#2a2a2a"/>
<rect x="68" y="552.21" width="1" height="42.58" fill="#d8d8d8"/>
<rect x="73" y="542.69" width="3" height="52.11" fill="#000"/>
<rect x="76" y="562.59" width="3" height="32.21" fill="#2a2a2a"/>
<rect x="77" y="563.59" width="1" height="31.21" fill="#d8d8d8"/>
<rect x="82" y="531.32" width="3" height="63.48" fill="#000"/>
<rect x="85" y="534.79" width="3" height="60.01" fill="#2a2a2a"/>
<rect x="86" y="535.79" width="1" height="59.01" fill="#d8d8d8"/>
<rect x="92" y="543.95" width="3" height="50.85" fill="#000"/>
<rect x="95" y="563.53" width="3" height="31.27" fill="#2a2a2a"/>
<rect x="96" y="564.53" width="1" height="30.27" fill="#d8d8d8"/>
<rect x="101" y="524.05" width="3" height="70.75" fill="#000"/>
<rect x="104" y="561.95" width="3" height="32.85" fill="#2a2a2a"/>
<rect x="105" y="562.95" width="1" height="31.85" fill="#d8d8d8"/>
<rect x="110" y="582.17" width="3" height="12.63" fill="#000"/>
<rect x="113" y="579.64" width="3" height="15.16" fill="#2a2a2a"/>
<rect x="114" y="580.64" width="1" height="14.16" fill="#d8d8d8"/>
<rect x="119" y="589.75" width="3" height="5.05" fill="#000"/>
<rect x="122" y="579.96" width="3" height="14.84" fill="#2a2a2a"/>
<rect x="123" y="580.96" width="1" height="13.84" fill="#d8d8d8"/>
<rect x="128" y="586.4" width="3" height="8.4" fill="#000"/>
<rect x="131" y="584.82" width="3" height="9.98" fill="#2a2a2a"/>
<rect x="132" y="585.82" width="1" height="8.98" fill="#d8d8d8"/>
<rect x="137" y="561.32" width="3" height="33.48" fill="#000"/>
<rect x="140" y="571.11" width="3" height="23.69" fill="#2a2a2a"/>
<rect x="141" y="572.11" width="1" height="22.69" fill="#d8d8d8"/>
<rect x="146" y="581.22" width="3" height="13.58" fill="#000"/>
<rect x="149" y="572.38" width="3" height="22.42" fill="#2a2a2a"/>
<rect x="150" y="573.38" width="1" height="21.42" fill="#d8d8d8"/>
<rect x="155" y="589.75" width="3" height="5.05" fill="#000"/>
<rect x="158" y="582.48" width="3" height="12.32" fill="#2a2a2a"/>
<rect x="159" y="583.48" width="1" height="11.32" fill="#d8d8d8"/>
<rect x="164" y="590.38" width="3" height="4.42" fill="#000"/>
<rect x="167" y="583.75" width="3" height="11.05" fill="#2a2a2a"/>
<rect x="168" y="584.75" width="1" height="10.05" fill="#d8d8d8"/>
<rect x="173" y="588.48" width="3" height="6.32" fill="#000"/>
<rect x="176" y="582.48" width="3" height="12.32" fill="#2a2a2a"/>
<rect x="177" y="583.48" width="1" height="11.32" fill="#d8d8d8"/>
<rect x="182" y="558.79" width="3" height="36" fill="#000"/>
<rect x="185" y="572.38" width="3" height="22.42" fill="#2a2a2a"/>
<rect x="186" y="573.38" width="1" height="21.42" fill="#d8d8d8"/>
<rect x="191" y="577.43" width="3" height="17.37" fill="#000"/>
<rect x="194" y="573.64" width="3" height="21.16" fill="#2a2a2a"/>
<rect x="195" y="574.64" width="1" height="20.16" fill="#d8d8d8"/>
<rect x="200" y="550.9" width="3" height="43.9" fill="#000"/>
<rect x="203" y="553.43" width="3" height="41.37" fill="#2a2a2a"/>
<rect x="204" y="554.43" width="1" height="40.37" fill="#d8d8d8"/>
<rect x="209" y="594.17" width="3" height="0.63" fill="#000"/>
<rect x="212" y="594.17" width="3" height="0.63" fill="#333"/>
<rect x="218" y="594.17" width="3" height="0.63" fill="#000"/>
<rect x="221" y="587.22" width="3" height="7.58" fill="#2a2a2a"/>
<rect x="222" y="588.22" width="1" height="6.58" fill="#d8d8d8"/>
<rect x="227" y="589.12" width="3" height="5.68" fill="#000"/>
<rect x="230" y="587.22" width="3" height="7.58" fill="#2a2a2a"/>
<rect x="231" y="588.22" width="1" height="6.58" fill="#d8d8d8"/>
<rect x="236" y="565.43" width="3" height="29.37" fill="#000"/>
<rect x="239" y="564.8" width="3" height="30" fill="#2a2a2a"/>
<rect x="240" y="565.8" width="1" height="29" fill="#d8d8d8"/>
<rect x="245" y="587.22" width="3" height="7.58" fill="#000"/>
<rect x="248" y="579.32" width="3" height="15.48" fill="#2a2a2a"/>
<rect x="249" y="580.32" width="1" height="14.48" fill="#d8d8d8"/>
<rect x="26.6" y="519" width="226.35" height="75.8" fill="none" stroke="#000" stroke-width="1.4"/>
<line x1="25.1" y1="594.8" x2="26.6" y2="594.8" stroke="#000" stroke-width="0.6"/>
<text x="23.2" y="596.4" text-anchor="end" font-size="4.3" font-weight="bold">0</text>
<line x1="25.1" y1="582.17" x2="26.6" y2="582.17" stroke="#000" stroke-width="0.6"/>
<text x="23.2" y="583.77" text-anchor="end" font-size="4.3" font-weight="bold">2</text>
<line x1="25.1" y1="569.53" x2="26.6" y2="569.53" stroke="#000" stroke-width="0.6"/>
<text x="23.2" y="571.13" text-anchor="end" font-size="4.3" font-weight="bold">4</text>
<line x1="25.1" y1="556.9" x2="26.6" y2="556.9" stroke="#000" stroke-width="0.6"/>
<text x="23.2" y="558.5" text-anchor="end" font-size="4.3" font-weight="bold">6</text>
<line x1="25.1" y1="544.27" x2="26.6" y2="544.27" stroke="#000" stroke-width="0.6"/>
<text x="23.2" y="545.87" text-anchor="end" font-size="4.3" font-weight="bold">8</text>
<line x1="25.1" y1="531.63" x2="26.6" y2="531.63" stroke="#000" stroke-width="0.6"/>
<text x="23.2" y="533.23" text-anchor="end" font-size="4.3" font-weight="bold">10</text>
<line x1="25.1" y1="519" x2="26.6" y2="519" stroke="#000" stroke-width="0.6"/>
<text x="23.2" y="520.6" text-anchor="end" font-size="4.3" font-weight="bold">12</text>
<text x="31.13" y="603.35" text-anchor="middle" font-size="4.3" font-weight="bold">1</text>
<text x="40.18" y="603.35" text-anchor="middle" font-size="4.3" font-weight="bold">2</text>
<text x="49.23" y="603.35" text-anchor="middle" font-size="4.3" font-weight="bold">3</text>
<text x="58.29" y="603.35" text-anchor="middle" font-size="4.3" font-weight="bold">4</text>
<text x="67.34" y="603.35" text-anchor="middle" font-size="4.3" font-weight="bold">5a</text>
<text x="76.4" y="603.35" text-anchor="middle" font-size="4.3" font-weight="bold">5b</text>
<text x="85.45" y="603.35" text-anchor="middle" font-size="4.3" font-weight="bold">6</text>
<text x="94.5" y="603.35" text-anchor="middle" font-size="4.3" font-weight="bold">7</text>
<text x="103.56" y="603.35" text-anchor="middle" font-size="4.3" font-weight="bold">8</text>
<text x="112.61" y="603.35" text-anchor="middle" font-size="4.3" font-weight="bold">9</text>
<text x="121.67" y="603.35" text-anchor="middle" font-size="4.3" font-weight="bold">10</text>
<text x="130.72" y="603.35" text-anchor="middle" font-size="4.3" font-weight="bold">11</text>
<text x="139.78" y="603.35" text-anchor="middle" font-size="4.3" font-weight="bold">12</text>
<text x="148.83" y="603.35" text-anchor="middle" font-size="4.3" font-weight="bold">13</text>
<text x="157.88" y="603.35" text-anchor="middle" font-size="4.3" font-weight="bold">14</text>
<text x="166.94" y="603.35" text-anchor="middle" font-size="4.3" font-weight="bold">15</text>
<text x="175.99" y="603.35" text-anchor="middle" font-size="4.3" font-weight="bold">16</text>
<text x="185.04" y="603.35" text-anchor="middle" font-size="4.3" font-weight="bold">17</text>
<text x="194.1" y="603.35" text-anchor="middle" font-size="4.3" font-weight="bold">18</text>
<text x="203.15" y="603.35" text-anchor="middle" font-size="4.3" font-weight="bold">19</text>
<text x="212.21" y="603.35" text-anchor="middle" font-size="4.3" font-weight="bold">20</text>
<text x="221.26" y="603.35" text-anchor="middle" font-size="4.3" font-weight="bold">21</text>
<text x="230.31" y="603.35" text-anchor="middle" font-size="4.3" font-weight="bold">22</text>
<text x="239.37" y="603.35" text-anchor="middle" font-size="4.3" font-weight="bold">23</text>
<text x="248.42" y="603.35" text-anchor="middle" font-size="4.3" font-weight="bold">24</text>
<text x="146.9" y="610.35" text-anchor="middle" font-size="4.6" font-weight="bold">BV gene family</text>
<text x="14" y="559.5" text-anchor="middle" font-size="4.7" font-weight="bold" transform="rotate(-90 14 559.5)">usage frequency (%)</text>
<text x="34.25" y="512.3" font-size="5.6" font-weight="bold">Patient 5: CD4</text>
<rect x="231.35" y="525.35" width="3.2" height="3.2" fill="#000"/>
<rect x="231.8" y="533.85" width="2.3" height="2.3" fill="#eee" stroke="#000" stroke-width="0.95"/>
<text x="235.75" y="528.75" font-size="4.35" font-weight="bold">IUT 1</text>
<text x="235.75" y="536.8" font-size="4.35" font-weight="bold">IUT 3</text></g>
<g transform="translate(396.95 77.45) matrix(1 -0.0037 0.0022 1 0 0) translate(-396.95 -77.45)"><rect x="282" y="88.13" width="3" height="29.37" fill="#000"/>
<rect x="285" y="94.14" width="3" height="23.36" fill="#2a2a2a"/>
<rect x="286" y="95.14" width="1" height="22.36" fill="#d8d8d8"/>
<rect x="291" y="84.12" width="3" height="33.38" fill="#000"/>
<rect x="294" y="74.45" width="3" height="43.05" fill="#2a2a2a"/>
<rect x="295" y="75.45" width="1" height="42.05" fill="#d8d8d8"/>
<rect x="301" y="86.13" width="3" height="31.37" fill="#000"/>
<rect x="304" y="74.11" width="3" height="43.39" fill="#2a2a2a"/>
<rect x="305" y="75.11" width="1" height="42.39" fill="#d8d8d8"/>
<rect x="310" y="78.12" width="3" height="39.38" fill="#000"/>
<rect x="313" y="80.45" width="3" height="37.05" fill="#2a2a2a"/>
<rect x="314" y="81.45" width="1" height="36.05" fill="#d8d8d8"/>
<rect x="319" y="94.81" width="3" height="22.7" fill="#000"/>
<rect x="322" y="69.44" width="3" height="48.06" fill="#2a2a2a"/>
<rect x="323" y="70.44" width="1" height="47.06" fill="#d8d8d8"/>
<rect x="329" y="64.1" width="3" height="53.4" fill="#000"/>
<rect x="332" y="77.45" width="3" height="40.05" fill="#2a2a2a"/>
<rect x="333" y="78.45" width="1" height="39.05" fill="#d8d8d8"/>
<rect x="338" y="42.74" width="3" height="74.76" fill="#000"/>
<rect x="341" y="51.42" width="3" height="66.08" fill="#2a2a2a"/>
<rect x="342" y="52.42" width="1" height="65.08" fill="#d8d8d8"/>
<rect x="347" y="37.4" width="3" height="80.1" fill="#000"/>
<rect x="350" y="83.12" width="3" height="34.38" fill="#2a2a2a"/>
<rect x="351" y="84.12" width="1" height="33.38" fill="#d8d8d8"/>
<rect x="357" y="56.09" width="3" height="61.41" fill="#000"/>
<rect x="360" y="47.41" width="3" height="70.09" fill="#2a2a2a"/>
<rect x="361" y="48.41" width="1" height="69.09" fill="#d8d8d8"/>
<rect x="366" y="114.83" width="3" height="2.67" fill="#000"/>
<rect x="369" y="96.81" width="3" height="20.69" fill="#2a2a2a"/>
<rect x="370" y="97.81" width="1" height="19.69" fill="#d8d8d8"/>
<rect x="375" y="113.83" width="3" height="3.67" fill="#000"/>
<rect x="378" y="111.16" width="3" height="6.34" fill="#2a2a2a"/>
<rect x="379" y="112.16" width="1" height="5.34" fill="#d8d8d8"/>
<rect x="385" y="97.47" width="3" height="20.02" fill="#000"/>
<rect x="388" y="113.83" width="3" height="3.67" fill="#2a2a2a"/>
<rect x="389" y="114.83" width="1" height="2.67" fill="#d8d8d8"/>
<rect x="394" y="61.1" width="3" height="56.4" fill="#000"/>
<rect x="397" y="68.1" width="3" height="49.4" fill="#2a2a2a"/>
<rect x="398" y="69.1" width="1" height="48.4" fill="#d8d8d8"/>
<rect x="403" y="72.78" width="3" height="44.72" fill="#000"/>
<rect x="406" y="69.44" width="3" height="48.06" fill="#2a2a2a"/>
<rect x="407" y="70.44" width="1" height="47.06" fill="#d8d8d8"/>
<rect x="413" y="86.8" width="3" height="30.7" fill="#000"/>
<rect x="416" y="108.82" width="3" height="8.68" fill="#2a2a2a"/>
<rect x="417" y="109.82" width="1" height="7.68" fill="#d8d8d8"/>
<rect x="422" y="112.83" width="3" height="4.67" fill="#000"/>
<rect x="425" y="110.83" width="3" height="6.67" fill="#2a2a2a"/>
<rect x="426" y="111.83" width="1" height="5.67" fill="#d8d8d8"/>
<rect x="431" y="114.83" width="3" height="2.67" fill="#000"/>
<rect x="434" y="110.16" width="3" height="7.34" fill="#2a2a2a"/>
<rect x="435" y="111.16" width="1" height="6.34" fill="#d8d8d8"/>
<rect x="441" y="92.14" width="3" height="25.36" fill="#000"/>
<rect x="444" y="96.14" width="3" height="21.36" fill="#2a2a2a"/>
<rect x="445" y="97.14" width="1" height="20.36" fill="#d8d8d8"/>
<rect x="450" y="114.83" width="3" height="2.67" fill="#000"/>
<rect x="453" y="106.49" width="3" height="11.01" fill="#2a2a2a"/>
<rect x="454" y="107.49" width="1" height="10.01" fill="#d8d8d8"/>
<rect x="459" y="90.13" width="3" height="27.37" fill="#000"/>
<rect x="462" y="75.78" width="3" height="41.72" fill="#2a2a2a"/>
<rect x="463" y="76.78" width="1" height="40.72" fill="#d8d8d8"/>
<rect x="468" y="113.83" width="3" height="3.67" fill="#000"/>
<rect x="471" y="112.83" width="3" height="4.67" fill="#2a2a2a"/>
<rect x="472" y="113.83" width="1" height="3.67" fill="#d8d8d8"/>
<rect x="481" y="108.16" width="3" height="9.34" fill="#2a2a2a"/>
<rect x="482" y="109.16" width="1" height="8.34" fill="#d8d8d8"/>
<rect x="487" y="112.16" width="3" height="5.34" fill="#000"/>
<rect x="490" y="113.16" width="3" height="4.34" fill="#2a2a2a"/>
<rect x="491" y="114.16" width="1" height="3.34" fill="#d8d8d8"/>
<rect x="496" y="115.83" width="3" height="1.67" fill="#000"/>
<rect x="499" y="113.16" width="3" height="4.34" fill="#2a2a2a"/>
<rect x="500" y="114.16" width="1" height="3.34" fill="#d8d8d8"/>
<rect x="506" y="112.83" width="3" height="4.67" fill="#000"/>
<rect x="509" y="108.16" width="3" height="9.34" fill="#2a2a2a"/>
<rect x="510" y="109.16" width="1" height="8.34" fill="#d8d8d8"/>
<rect x="280.5" y="37.4" width="232.9" height="80.1" fill="none" stroke="#000" stroke-width="1.4"/>
<line x1="279" y1="117.5" x2="280.5" y2="117.5" stroke="#000" stroke-width="0.6"/>
<text x="277.1" y="119.1" text-anchor="end" font-size="4.3" font-weight="bold">0</text>
<line x1="279" y1="104.15" x2="280.5" y2="104.15" stroke="#000" stroke-width="0.6"/>
<text x="277.1" y="105.75" text-anchor="end" font-size="4.3" font-weight="bold">2</text>
<line x1="279" y1="90.8" x2="280.5" y2="90.8" stroke="#000" stroke-width="0.6"/>
<text x="277.1" y="92.4" text-anchor="end" font-size="4.3" font-weight="bold">4</text>
<line x1="279" y1="77.45" x2="280.5" y2="77.45" stroke="#000" stroke-width="0.6"/>
<text x="277.1" y="79.05" text-anchor="end" font-size="4.3" font-weight="bold">6</text>
<line x1="279" y1="64.1" x2="280.5" y2="64.1" stroke="#000" stroke-width="0.6"/>
<text x="277.1" y="65.7" text-anchor="end" font-size="4.3" font-weight="bold">8</text>
<line x1="279" y1="50.75" x2="280.5" y2="50.75" stroke="#000" stroke-width="0.6"/>
<text x="277.1" y="52.35" text-anchor="end" font-size="4.3" font-weight="bold">10</text>
<line x1="279" y1="37.4" x2="280.5" y2="37.4" stroke="#000" stroke-width="0.6"/>
<text x="277.1" y="39" text-anchor="end" font-size="4.3" font-weight="bold">12</text>
<text x="285.16" y="125.75" text-anchor="middle" font-size="4.3" font-weight="bold">1</text>
<text x="294.47" y="125.75" text-anchor="middle" font-size="4.3" font-weight="bold">2</text>
<text x="303.79" y="125.75" text-anchor="middle" font-size="4.3" font-weight="bold">3</text>
<text x="313.11" y="125.75" text-anchor="middle" font-size="4.3" font-weight="bold">4</text>
<text x="322.42" y="125.75" text-anchor="middle" font-size="4.3" font-weight="bold">5a</text>
<text x="331.74" y="125.75" text-anchor="middle" font-size="4.3" font-weight="bold">5b</text>
<text x="341.05" y="125.75" text-anchor="middle" font-size="4.3" font-weight="bold">6</text>
<text x="350.37" y="125.75" text-anchor="middle" font-size="4.3" font-weight="bold">7</text>
<text x="359.69" y="125.75" text-anchor="middle" font-size="4.3" font-weight="bold">8</text>
<text x="369" y="125.75" text-anchor="middle" font-size="4.3" font-weight="bold">9</text>
<text x="378.32" y="125.75" text-anchor="middle" font-size="4.3" font-weight="bold">10</text>
<text x="387.63" y="125.75" text-anchor="middle" font-size="4.3" font-weight="bold">11</text>
<text x="396.95" y="125.75" text-anchor="middle" font-size="4.3" font-weight="bold">12</text>
<text x="406.27" y="125.75" text-anchor="middle" font-size="4.3" font-weight="bold">13</text>
<text x="415.58" y="125.75" text-anchor="middle" font-size="4.3" font-weight="bold">14</text>
<text x="424.9" y="125.75" text-anchor="middle" font-size="4.3" font-weight="bold">15</text>
<text x="434.21" y="125.75" text-anchor="middle" font-size="4.3" font-weight="bold">16</text>
<text x="443.53" y="125.75" text-anchor="middle" font-size="4.3" font-weight="bold">17</text>
<text x="452.85" y="125.75" text-anchor="middle" font-size="4.3" font-weight="bold">18</text>
<text x="462.16" y="125.75" text-anchor="middle" font-size="4.3" font-weight="bold">19</text>
<text x="471.48" y="125.75" text-anchor="middle" font-size="4.3" font-weight="bold">20</text>
<text x="480.79" y="125.75" text-anchor="middle" font-size="4.3" font-weight="bold">21</text>
<text x="490.11" y="125.75" text-anchor="middle" font-size="4.3" font-weight="bold">22</text>
<text x="499.43" y="125.75" text-anchor="middle" font-size="4.3" font-weight="bold">23</text>
<text x="508.74" y="125.75" text-anchor="middle" font-size="4.3" font-weight="bold">24</text>
<text x="402.8" y="131.8" text-anchor="middle" font-size="4.6" font-weight="bold">BV gene family</text>
<text x="267" y="75.8" text-anchor="middle" font-size="4.7" font-weight="bold" transform="rotate(-90 267 75.8)">usage frequency (%)</text>
<text x="288.75" y="31.5" font-size="5.6" font-weight="bold">Patient1: CD8</text>
<rect x="489.05" y="42.2" width="3.2" height="3.2" fill="#000"/>
<rect x="489.5" y="50.7" width="2.3" height="2.3" fill="#eee" stroke="#000" stroke-width="0.95"/>
<text x="493.45" y="45.6" font-size="4.35" font-weight="bold">IUT 1</text>
<text x="493.45" y="53.65" font-size="4.35" font-weight="bold">IUT 5</text></g>
<g transform="translate(395.1 195.27) matrix(1 -0.0037 0.0022 1 0 0) translate(-395.1 -195.27)"><rect x="278" y="170.59" width="3" height="64.36" fill="#000"/>
<rect x="281" y="197.04" width="3" height="37.91" fill="#2a2a2a"/>
<rect x="282" y="198.04" width="1" height="36.91" fill="#d8d8d8"/>
<rect x="288" y="191.75" width="3" height="43.2" fill="#000"/>
<rect x="291" y="187.78" width="3" height="47.17" fill="#2a2a2a"/>
<rect x="292" y="188.78" width="1" height="46.17" fill="#d8d8d8"/>
<rect x="297" y="207.62" width="3" height="27.33" fill="#000"/>
<rect x="300" y="187.78" width="3" height="47.17" fill="#2a2a2a"/>
<rect x="301" y="188.78" width="1" height="46.17" fill="#d8d8d8"/>
<rect x="307" y="178.52" width="3" height="56.43" fill="#000"/>
<rect x="310" y="182.49" width="3" height="52.46" fill="#2a2a2a"/>
<rect x="311" y="183.49" width="1" height="51.46" fill="#d8d8d8"/>
<rect x="316" y="162.65" width="3" height="72.3" fill="#000"/>
<rect x="319" y="191.75" width="3" height="43.2" fill="#2a2a2a"/>
<rect x="320" y="192.75" width="1" height="42.2" fill="#d8d8d8"/>
<rect x="326" y="179.41" width="3" height="55.54" fill="#000"/>
<rect x="329" y="182.93" width="3" height="52.02" fill="#2a2a2a"/>
<rect x="330" y="183.93" width="1" height="51.02" fill="#d8d8d8"/>
<rect x="335" y="163.09" width="3" height="71.86" fill="#000"/>
<rect x="338" y="159.13" width="3" height="75.82" fill="#2a2a2a"/>
<rect x="339" y="160.13" width="1" height="74.82" fill="#d8d8d8"/>
<rect x="345" y="163.09" width="3" height="71.86" fill="#000"/>
<rect x="348" y="168.82" width="3" height="66.12" fill="#2a2a2a"/>
<rect x="349" y="169.82" width="1" height="65.12" fill="#d8d8d8"/>
<rect x="354" y="169.71" width="3" height="65.24" fill="#000"/>
<rect x="357" y="160.45" width="3" height="74.5" fill="#2a2a2a"/>
<rect x="358" y="161.45" width="1" height="73.5" fill="#d8d8d8"/>
<rect x="364" y="223.93" width="3" height="11.02" fill="#000"/>
<rect x="367" y="213.35" width="3" height="21.6" fill="#2a2a2a"/>
<rect x="368" y="214.35" width="1" height="20.6" fill="#d8d8d8"/>
<rect x="373" y="229.66" width="3" height="5.29" fill="#000"/>
<rect x="376" y="222.61" width="3" height="12.34" fill="#2a2a2a"/>
<rect x="377" y="223.61" width="1" height="11.34" fill="#d8d8d8"/>
<rect x="383" y="213.79" width="3" height="21.16" fill="#000"/>
<rect x="386" y="222.61" width="3" height="12.34" fill="#2a2a2a"/>
<rect x="387" y="223.61" width="1" height="11.34" fill="#d8d8d8"/>
<rect x="392" y="188.22" width="3" height="46.73" fill="#000"/>
<rect x="395" y="180.73" width="3" height="54.22" fill="#2a2a2a"/>
<rect x="396" y="181.73" width="1" height="53.22" fill="#d8d8d8"/>
<rect x="402" y="173.67" width="3" height="61.28" fill="#000"/>
<rect x="405" y="189.1" width="3" height="45.85" fill="#2a2a2a"/>
<rect x="406" y="190.1" width="1" height="44.85" fill="#d8d8d8"/>
<rect x="411" y="193.51" width="3" height="41.44" fill="#000"/>
<rect x="414" y="193.95" width="3" height="41" fill="#2a2a2a"/>
<rect x="415" y="194.95" width="1" height="40" fill="#d8d8d8"/>
<rect x="421" y="225.69" width="3" height="9.26" fill="#000"/>
<rect x="424" y="227.01" width="3" height="7.93" fill="#2a2a2a"/>
<rect x="425" y="228.01" width="1" height="6.93" fill="#d8d8d8"/>
<rect x="430" y="230.54" width="3" height="4.41" fill="#000"/>
<rect x="433" y="225.69" width="3" height="9.26" fill="#2a2a2a"/>
<rect x="434" y="226.69" width="1" height="8.26" fill="#d8d8d8"/>
<rect x="440" y="210.7" width="3" height="24.25" fill="#000"/>
<rect x="443" y="192.19" width="3" height="42.76" fill="#2a2a2a"/>
<rect x="444" y="193.19" width="1" height="41.76" fill="#d8d8d8"/>
<rect x="449" y="216.88" width="3" height="18.07" fill="#000"/>
<rect x="452" y="223.49" width="3" height="11.46" fill="#2a2a2a"/>
<rect x="453" y="224.49" width="1" height="10.46" fill="#d8d8d8"/>
<rect x="459" y="175.44" width="3" height="59.51" fill="#000"/>
<rect x="462" y="179.85" width="3" height="55.1" fill="#2a2a2a"/>
<rect x="463" y="180.85" width="1" height="54.1" fill="#d8d8d8"/>
<rect x="468" y="222.17" width="3" height="12.78" fill="#000"/>
<rect x="471" y="234.07" width="3" height="0.88" fill="#333"/>
<rect x="477" y="232.3" width="3" height="2.65" fill="#000"/>
<rect x="480" y="223.49" width="3" height="11.46" fill="#2a2a2a"/>
<rect x="481" y="224.49" width="1" height="10.46" fill="#d8d8d8"/>
<rect x="487" y="214.23" width="3" height="20.72" fill="#000"/>
<rect x="490" y="206.3" width="3" height="28.65" fill="#2a2a2a"/>
<rect x="491" y="207.3" width="1" height="27.65" fill="#d8d8d8"/>
<rect x="496" y="229.22" width="3" height="5.73" fill="#000"/>
<rect x="499" y="227.46" width="3" height="7.49" fill="#2a2a2a"/>
<rect x="500" y="228.46" width="1" height="6.49" fill="#d8d8d8"/>
<rect x="506" y="231.42" width="3" height="3.53" fill="#000"/>
<rect x="509" y="218.2" width="3" height="16.75" fill="#2a2a2a"/>
<rect x="510" y="219.2" width="1" height="15.75" fill="#d8d8d8"/>
<rect x="276.5" y="155.6" width="237.2" height="79.35" fill="none" stroke="#000" stroke-width="1.4"/>
<line x1="275" y1="234.95" x2="276.5" y2="234.95" stroke="#000" stroke-width="0.6"/>
<text x="273.1" y="236.55" text-anchor="end" font-size="4.3" font-weight="bold">0</text>
<line x1="275" y1="226.13" x2="276.5" y2="226.13" stroke="#000" stroke-width="0.6"/>
<text x="273.1" y="227.73" text-anchor="end" font-size="4.3" font-weight="bold">1</text>
<line x1="275" y1="217.32" x2="276.5" y2="217.32" stroke="#000" stroke-width="0.6"/>
<text x="273.1" y="218.92" text-anchor="end" font-size="4.3" font-weight="bold">2</text>
<line x1="275" y1="208.5" x2="276.5" y2="208.5" stroke="#000" stroke-width="0.6"/>
<text x="273.1" y="210.1" text-anchor="end" font-size="4.3" font-weight="bold">3</text>
<line x1="275" y1="199.68" x2="276.5" y2="199.68" stroke="#000" stroke-width="0.6"/>
<text x="273.1" y="201.28" text-anchor="end" font-size="4.3" font-weight="bold">4</text>
<line x1="275" y1="190.87" x2="276.5" y2="190.87" stroke="#000" stroke-width="0.6"/>
<text x="273.1" y="192.47" text-anchor="end" font-size="4.3" font-weight="bold">5</text>
<line x1="275" y1="182.05" x2="276.5" y2="182.05" stroke="#000" stroke-width="0.6"/>
<text x="273.1" y="183.65" text-anchor="end" font-size="4.3" font-weight="bold">6</text>
<line x1="275" y1="173.23" x2="276.5" y2="173.23" stroke="#000" stroke-width="0.6"/>
<text x="273.1" y="174.83" text-anchor="end" font-size="4.3" font-weight="bold">7</text>
<line x1="275" y1="164.42" x2="276.5" y2="164.42" stroke="#000" stroke-width="0.6"/>
<text x="273.1" y="166.02" text-anchor="end" font-size="4.3" font-weight="bold">8</text>
<line x1="275" y1="155.6" x2="276.5" y2="155.6" stroke="#000" stroke-width="0.6"/>
<text x="273.1" y="157.2" text-anchor="end" font-size="4.3" font-weight="bold">9</text>
<text x="281.24" y="244" text-anchor="middle" font-size="4.3" font-weight="bold">1</text>
<text x="290.73" y="244" text-anchor="middle" font-size="4.3" font-weight="bold">2</text>
<text x="300.22" y="244" text-anchor="middle" font-size="4.3" font-weight="bold">3</text>
<text x="309.71" y="244" text-anchor="middle" font-size="4.3" font-weight="bold">4</text>
<text x="319.2" y="244" text-anchor="middle" font-size="4.3" font-weight="bold">5a</text>
<text x="328.68" y="244" text-anchor="middle" font-size="4.3" font-weight="bold">5b</text>
<text x="338.17" y="244" text-anchor="middle" font-size="4.3" font-weight="bold">6</text>
<text x="347.66" y="244" text-anchor="middle" font-size="4.3" font-weight="bold">7</text>
<text x="357.15" y="244" text-anchor="middle" font-size="4.3" font-weight="bold">8</text>
<text x="366.64" y="244" text-anchor="middle" font-size="4.3" font-weight="bold">9</text>
<text x="376.12" y="244" text-anchor="middle" font-size="4.3" font-weight="bold">10</text>
<text x="385.61" y="244" text-anchor="middle" font-size="4.3" font-weight="bold">11</text>
<text x="395.1" y="244" text-anchor="middle" font-size="4.3" font-weight="bold">12</text>
<text x="404.59" y="244" text-anchor="middle" font-size="4.3" font-weight="bold">13</text>
<text x="414.08" y="244" text-anchor="middle" font-size="4.3" font-weight="bold">14</text>
<text x="423.56" y="244" text-anchor="middle" font-size="4.3" font-weight="bold">15</text>
<text x="433.05" y="244" text-anchor="middle" font-size="4.3" font-weight="bold">16</text>
<text x="442.54" y="244" text-anchor="middle" font-size="4.3" font-weight="bold">17</text>
<text x="452.03" y="244" text-anchor="middle" font-size="4.3" font-weight="bold">18</text>
<text x="461.52" y="244" text-anchor="middle" font-size="4.3" font-weight="bold">19</text>
<text x="471" y="244" text-anchor="middle" font-size="4.3" font-weight="bold">20</text>
<text x="480.49" y="244" text-anchor="middle" font-size="4.3" font-weight="bold">21</text>
<text x="489.98" y="244" text-anchor="middle" font-size="4.3" font-weight="bold">22</text>
<text x="499.47" y="244" text-anchor="middle" font-size="4.3" font-weight="bold">23</text>
<text x="508.96" y="244" text-anchor="middle" font-size="4.3" font-weight="bold">24</text>
<text x="401.4" y="249.7" text-anchor="middle" font-size="4.6" font-weight="bold">BV gene family</text>
<text x="267.4" y="195.7" text-anchor="middle" font-size="4.45" font-weight="bold" transform="rotate(-90 267.4 195.7)">usage frequency (%)</text>
<text x="283.75" y="151.3" font-size="5.6" font-weight="bold">Patient 2: CD8</text>
<rect x="489.9" y="160.9" width="3.2" height="3.2" fill="#000"/>
<rect x="490.35" y="169.3" width="2.3" height="2.3" fill="#eee" stroke="#000" stroke-width="0.95"/>
<text x="494.3" y="164.3" font-size="4.35" font-weight="bold">IUT 1</text>
<text x="494.3" y="172.25" font-size="4.35" font-weight="bold">IUT 4</text></g>
<g transform="translate(396.65 316.33) matrix(1 -0.0037 0.0022 1 0 0) translate(-396.65 -316.33)"><rect x="281" y="309.86" width="3" height="45.24" fill="#000"/>
<rect x="284" y="329.9" width="3" height="25.2" fill="#2a2a2a"/>
<rect x="285" y="330.9" width="1" height="24.2" fill="#d8d8d8"/>
<rect x="290" y="312.45" width="3" height="42.65" fill="#000"/>
<rect x="293" y="321.82" width="3" height="33.28" fill="#2a2a2a"/>
<rect x="294" y="322.82" width="1" height="32.28" fill="#d8d8d8"/>
<rect x="300" y="340.56" width="3" height="14.54" fill="#000"/>
<rect x="303" y="353.81" width="3" height="1.29" fill="#333"/>
<rect x="309" y="312.45" width="3" height="42.65" fill="#000"/>
<rect x="312" y="314.06" width="3" height="41.04" fill="#2a2a2a"/>
<rect x="313" y="315.06" width="1" height="40.04" fill="#d8d8d8"/>
<rect x="318" y="314.71" width="3" height="40.39" fill="#000"/>
<rect x="321" y="315.36" width="3" height="39.74" fill="#2a2a2a"/>
<rect x="322" y="316.36" width="1" height="38.74" fill="#d8d8d8"/>
<rect x="328" y="346.7" width="3" height="8.4" fill="#000"/>
<rect x="331" y="322.79" width="3" height="32.31" fill="#2a2a2a"/>
<rect x="332" y="323.79" width="1" height="31.31" fill="#d8d8d8"/>
<rect x="337" y="326.67" width="3" height="28.44" fill="#000"/>
<rect x="340" y="295.65" width="3" height="59.46" fill="#2a2a2a"/>
<rect x="341" y="296.65" width="1" height="58.46" fill="#d8d8d8"/>
<rect x="347" y="309.22" width="3" height="45.88" fill="#000"/>
<rect x="350" y="315.36" width="3" height="39.74" fill="#2a2a2a"/>
<rect x="351" y="316.36" width="1" height="38.74" fill="#d8d8d8"/>
<rect x="356" y="301.46" width="3" height="53.64" fill="#000"/>
<rect x="359" y="311.8" width="3" height="43.3" fill="#2a2a2a"/>
<rect x="360" y="312.8" width="1" height="42.3" fill="#d8d8d8"/>
<rect x="365" y="354.13" width="3" height="0.97" fill="#000"/>
<rect x="368" y="331.84" width="3" height="23.27" fill="#2a2a2a"/>
<rect x="369" y="332.84" width="1" height="22.27" fill="#d8d8d8"/>
<rect x="375" y="342.18" width="3" height="12.93" fill="#000"/>
<rect x="378" y="351.55" width="3" height="3.55" fill="#2a2a2a"/>
<rect x="379" y="352.55" width="1" height="2.55" fill="#d8d8d8"/>
<rect x="384" y="350.25" width="3" height="4.85" fill="#000"/>
<rect x="387" y="345.41" width="3" height="9.69" fill="#2a2a2a"/>
<rect x="388" y="346.41" width="1" height="8.69" fill="#d8d8d8"/>
<rect x="394" y="319.88" width="3" height="35.22" fill="#000"/>
<rect x="397" y="325.37" width="3" height="29.73" fill="#2a2a2a"/>
<rect x="398" y="326.37" width="1" height="28.73" fill="#d8d8d8"/>
<rect x="403" y="309.22" width="3" height="45.88" fill="#000"/>
<rect x="406" y="291.12" width="3" height="63.98" fill="#2a2a2a"/>
<rect x="407" y="292.12" width="1" height="62.98" fill="#d8d8d8"/>
<rect x="412" y="314.06" width="3" height="41.04" fill="#000"/>
<rect x="415" y="327.96" width="3" height="27.14" fill="#2a2a2a"/>
<rect x="416" y="328.96" width="1" height="26.14" fill="#d8d8d8"/>
<rect x="422" y="354.45" width="3" height="0.65" fill="#000"/>
<rect x="425" y="350.9" width="3" height="4.2" fill="#2a2a2a"/>
<rect x="426" y="351.9" width="1" height="3.2" fill="#d8d8d8"/>
<rect x="431" y="342.18" width="3" height="12.93" fill="#000"/>
<rect x="434" y="334.1" width="3" height="21" fill="#2a2a2a"/>
<rect x="435" y="335.1" width="1" height="20" fill="#d8d8d8"/>
<rect x="441" y="306.63" width="3" height="48.47" fill="#000"/>
<rect x="444" y="323.76" width="3" height="31.34" fill="#2a2a2a"/>
<rect x="445" y="324.76" width="1" height="30.34" fill="#d8d8d8"/>
<rect x="450" y="349.61" width="3" height="5.49" fill="#000"/>
<rect x="453" y="353.48" width="3" height="1.62" fill="#333"/>
<rect x="459" y="324.73" width="3" height="30.37" fill="#000"/>
<rect x="462" y="318.59" width="3" height="36.51" fill="#2a2a2a"/>
<rect x="463" y="319.59" width="1" height="35.51" fill="#d8d8d8"/>
<rect x="469" y="354.78" width="3" height="0.32" fill="#000"/>
<rect x="472" y="354.78" width="3" height="0.32" fill="#333"/>
<rect x="478" y="349.61" width="3" height="5.49" fill="#000"/>
<rect x="481" y="353.81" width="3" height="1.29" fill="#333"/>
<rect x="488" y="330.87" width="3" height="24.23" fill="#000"/>
<rect x="491" y="326.99" width="3" height="28.11" fill="#2a2a2a"/>
<rect x="492" y="327.99" width="1" height="27.11" fill="#d8d8d8"/>
<rect x="497" y="322.46" width="3" height="32.64" fill="#000"/>
<rect x="500" y="313.09" width="3" height="42.01" fill="#2a2a2a"/>
<rect x="501" y="314.09" width="1" height="41.01" fill="#d8d8d8"/>
<rect x="506" y="337.33" width="3" height="17.77" fill="#000"/>
<rect x="509" y="353.16" width="3" height="1.94" fill="#333"/>
<rect x="279.1" y="277.55" width="235.1" height="77.55" fill="none" stroke="#000" stroke-width="1.4"/>
<line x1="277.6" y1="355.1" x2="279.1" y2="355.1" stroke="#000" stroke-width="0.6"/>
<text x="275.7" y="356.7" text-anchor="end" font-size="4.3" font-weight="bold">0</text>
<line x1="277.6" y1="342.18" x2="279.1" y2="342.18" stroke="#000" stroke-width="0.6"/>
<text x="275.7" y="343.78" text-anchor="end" font-size="4.3" font-weight="bold">2</text>
<line x1="277.6" y1="329.25" x2="279.1" y2="329.25" stroke="#000" stroke-width="0.6"/>
<text x="275.7" y="330.85" text-anchor="end" font-size="4.3" font-weight="bold">4</text>
<line x1="277.6" y1="316.33" x2="279.1" y2="316.33" stroke="#000" stroke-width="0.6"/>
<text x="275.7" y="317.93" text-anchor="end" font-size="4.3" font-weight="bold">6</text>
<line x1="277.6" y1="303.4" x2="279.1" y2="303.4" stroke="#000" stroke-width="0.6"/>
<text x="275.7" y="305" text-anchor="end" font-size="4.3" font-weight="bold">8</text>
<line x1="277.6" y1="290.48" x2="279.1" y2="290.48" stroke="#000" stroke-width="0.6"/>
<text x="275.7" y="292.08" text-anchor="end" font-size="4.3" font-weight="bold">10</text>
<line x1="277.6" y1="277.55" x2="279.1" y2="277.55" stroke="#000" stroke-width="0.6"/>
<text x="275.7" y="279.15" text-anchor="end" font-size="4.3" font-weight="bold">12</text>
<text x="283.8" y="363.8" text-anchor="middle" font-size="4.3" font-weight="bold">1</text>
<text x="293.21" y="363.8" text-anchor="middle" font-size="4.3" font-weight="bold">2</text>
<text x="302.61" y="363.8" text-anchor="middle" font-size="4.3" font-weight="bold">3</text>
<text x="312.01" y="363.8" text-anchor="middle" font-size="4.3" font-weight="bold">4</text>
<text x="321.42" y="363.8" text-anchor="middle" font-size="4.3" font-weight="bold">5a</text>
<text x="330.82" y="363.8" text-anchor="middle" font-size="4.3" font-weight="bold">5b</text>
<text x="340.23" y="363.8" text-anchor="middle" font-size="4.3" font-weight="bold">6</text>
<text x="349.63" y="363.8" text-anchor="middle" font-size="4.3" font-weight="bold">7</text>
<text x="359.03" y="363.8" text-anchor="middle" font-size="4.3" font-weight="bold">8</text>
<text x="368.44" y="363.8" text-anchor="middle" font-size="4.3" font-weight="bold">9</text>
<text x="377.84" y="363.8" text-anchor="middle" font-size="4.3" font-weight="bold">10</text>
<text x="387.25" y="363.8" text-anchor="middle" font-size="4.3" font-weight="bold">11</text>
<text x="396.65" y="363.8" text-anchor="middle" font-size="4.3" font-weight="bold">12</text>
<text x="406.05" y="363.8" text-anchor="middle" font-size="4.3" font-weight="bold">13</text>
<text x="415.46" y="363.8" text-anchor="middle" font-size="4.3" font-weight="bold">14</text>
<text x="424.86" y="363.8" text-anchor="middle" font-size="4.3" font-weight="bold">15</text>
<text x="434.27" y="363.8" text-anchor="middle" font-size="4.3" font-weight="bold">16</text>
<text x="443.67" y="363.8" text-anchor="middle" font-size="4.3" font-weight="bold">17</text>
<text x="453.07" y="363.8" text-anchor="middle" font-size="4.3" font-weight="bold">18</text>
<text x="462.48" y="363.8" text-anchor="middle" font-size="4.3" font-weight="bold">19</text>
<text x="471.88" y="363.8" text-anchor="middle" font-size="4.3" font-weight="bold">20</text>
<text x="481.29" y="363.8" text-anchor="middle" font-size="4.3" font-weight="bold">21</text>
<text x="490.69" y="363.8" text-anchor="middle" font-size="4.3" font-weight="bold">22</text>
<text x="500.09" y="363.8" text-anchor="middle" font-size="4.3" font-weight="bold">23</text>
<text x="509.5" y="363.8" text-anchor="middle" font-size="4.3" font-weight="bold">24</text>
<text x="400.9" y="371.3" text-anchor="middle" font-size="4.6" font-weight="bold">BV gene family</text>
<text x="267" y="319.2" text-anchor="middle" font-size="4.4" font-weight="bold" transform="rotate(-90 267 319.2)">usage frequency (%)</text>
<text x="286.25" y="271.5" font-size="5.6" font-weight="bold">Patient 3: CD8</text>
<rect x="487.05" y="281.9" width="3.2" height="3.2" fill="#000"/>
<rect x="487.5" y="290.75" width="2.3" height="2.3" fill="#eee" stroke="#000" stroke-width="0.95"/>
<text x="491.45" y="285.3" font-size="4.35" font-weight="bold">IUT 1</text>
<text x="491.45" y="293.7" font-size="4.35" font-weight="bold">CB</text></g>
<g transform="translate(395.65 436.32) matrix(1 -0.0037 0.0022 1 0 0) translate(-395.65 -436.32)"><rect x="279" y="411.1" width="3" height="65.05" fill="#000"/>
<rect x="282" y="440.75" width="3" height="35.4" fill="#2a2a2a"/>
<rect x="283" y="441.75" width="1" height="34.4" fill="#d8d8d8"/>
<rect x="288" y="396.5" width="3" height="79.65" fill="#000"/>
<rect x="291" y="419.07" width="3" height="57.08" fill="#2a2a2a"/>
<rect x="292" y="420.07" width="1" height="56.08" fill="#d8d8d8"/>
<rect x="298" y="471.28" width="3" height="4.87" fill="#000"/>
<rect x="301" y="415.08" width="3" height="61.06" fill="#2a2a2a"/>
<rect x="302" y="416.08" width="1" height="60.06" fill="#d8d8d8"/>
<rect x="307" y="471.28" width="3" height="4.87" fill="#000"/>
<rect x="310" y="404.02" width="3" height="72.13" fill="#2a2a2a"/>
<rect x="311" y="405.02" width="1" height="71.13" fill="#d8d8d8"/>
<rect x="317" y="446.94" width="3" height="29.2" fill="#000"/>
<rect x="320" y="424.82" width="3" height="51.33" fill="#2a2a2a"/>
<rect x="321" y="425.82" width="1" height="50.33" fill="#d8d8d8"/>
<rect x="326" y="434.56" width="3" height="41.59" fill="#000"/>
<rect x="329" y="414.64" width="3" height="61.51" fill="#2a2a2a"/>
<rect x="330" y="415.64" width="1" height="60.51" fill="#d8d8d8"/>
<rect x="336" y="423.94" width="3" height="52.21" fill="#000"/>
<rect x="339" y="412.87" width="3" height="63.28" fill="#2a2a2a"/>
<rect x="340" y="413.87" width="1" height="62.28" fill="#d8d8d8"/>
<rect x="345" y="435" width="3" height="41.15" fill="#000"/>
<rect x="348" y="455.35" width="3" height="20.8" fill="#2a2a2a"/>
<rect x="349" y="456.35" width="1" height="19.8" fill="#d8d8d8"/>
<rect x="355" y="419.07" width="3" height="57.08" fill="#000"/>
<rect x="358" y="431.01" width="3" height="45.13" fill="#2a2a2a"/>
<rect x="359" y="432.01" width="1" height="44.13" fill="#d8d8d8"/>
<rect x="364" y="465.09" width="3" height="11.06" fill="#000"/>
<rect x="367" y="466.41" width="3" height="9.73" fill="#2a2a2a"/>
<rect x="368" y="467.41" width="1" height="8.73" fill="#d8d8d8"/>
<rect x="374" y="461.1" width="3" height="15.04" fill="#000"/>
<rect x="377" y="461.99" width="3" height="14.16" fill="#2a2a2a"/>
<rect x="378" y="462.99" width="1" height="13.16" fill="#d8d8d8"/>
<rect x="383" y="449.6" width="3" height="26.55" fill="#000"/>
<rect x="386" y="433.67" width="3" height="42.48" fill="#2a2a2a"/>
<rect x="387" y="434.67" width="1" height="41.48" fill="#d8d8d8"/>
<rect x="393" y="431.01" width="3" height="45.13" fill="#000"/>
<rect x="396" y="436.77" width="3" height="39.38" fill="#2a2a2a"/>
<rect x="397" y="437.77" width="1" height="38.38" fill="#d8d8d8"/>
<rect x="402" y="423.49" width="3" height="52.66" fill="#000"/>
<rect x="405" y="405.35" width="3" height="70.8" fill="#2a2a2a"/>
<rect x="406" y="406.35" width="1" height="69.8" fill="#d8d8d8"/>
<rect x="412" y="438.54" width="3" height="37.61" fill="#000"/>
<rect x="415" y="439.42" width="3" height="36.73" fill="#2a2a2a"/>
<rect x="416" y="440.42" width="1" height="35.73" fill="#d8d8d8"/>
<rect x="421" y="468.19" width="3" height="7.96" fill="#000"/>
<rect x="424" y="473.05" width="3" height="3.1" fill="#2a2a2a"/>
<rect x="425" y="474.05" width="1" height="2.1" fill="#d8d8d8"/>
<rect x="431" y="450.04" width="3" height="26.11" fill="#000"/>
<rect x="434" y="462.88" width="3" height="13.27" fill="#2a2a2a"/>
<rect x="435" y="463.88" width="1" height="12.27" fill="#d8d8d8"/>
<rect x="440" y="424.38" width="3" height="51.77" fill="#000"/>
<rect x="443" y="419.51" width="3" height="56.64" fill="#2a2a2a"/>
<rect x="444" y="420.51" width="1" height="55.64" fill="#d8d8d8"/>
<rect x="450" y="453.58" width="3" height="22.57" fill="#000"/>
<rect x="453" y="465.09" width="3" height="11.06" fill="#2a2a2a"/>
<rect x="454" y="466.09" width="1" height="10.06" fill="#d8d8d8"/>
<rect x="459" y="408" width="3" height="68.14" fill="#000"/>
<rect x="462" y="436.77" width="3" height="39.38" fill="#2a2a2a"/>
<rect x="463" y="437.77" width="1" height="38.38" fill="#d8d8d8"/>
<rect x="469" y="475.26" width="3" height="0.88" fill="#000"/>
<rect x="472" y="474.82" width="3" height="1.33" fill="#333"/>
<rect x="478" y="459.78" width="3" height="16.37" fill="#000"/>
<rect x="481" y="473.05" width="3" height="3.1" fill="#2a2a2a"/>
<rect x="482" y="474.05" width="1" height="2.1" fill="#d8d8d8"/>
<rect x="487" y="427.92" width="3" height="48.23" fill="#000"/>
<rect x="490" y="444.29" width="3" height="31.86" fill="#2a2a2a"/>
<rect x="491" y="445.29" width="1" height="30.86" fill="#d8d8d8"/>
<rect x="497" y="427.92" width="3" height="48.23" fill="#000"/>
<rect x="500" y="450.93" width="3" height="25.22" fill="#2a2a2a"/>
<rect x="501" y="451.93" width="1" height="24.22" fill="#d8d8d8"/>
<rect x="506" y="456.68" width="3" height="19.47" fill="#000"/>
<rect x="509" y="473.05" width="3" height="3.1" fill="#2a2a2a"/>
<rect x="510" y="474.05" width="1" height="2.1" fill="#d8d8d8"/>
<rect x="277.1" y="396.5" width="237.1" height="79.65" fill="none" stroke="#000" stroke-width="1.4"/>
<line x1="275.6" y1="476.15" x2="277.1" y2="476.15" stroke="#000" stroke-width="0.6"/>
<text x="273.7" y="477.75" text-anchor="end" font-size="4.3" font-weight="bold">0</text>
<line x1="275.6" y1="467.3" x2="277.1" y2="467.3" stroke="#000" stroke-width="0.6"/>
<text x="273.7" y="468.9" text-anchor="end" font-size="4.3" font-weight="bold">1</text>
<line x1="275.6" y1="458.45" x2="277.1" y2="458.45" stroke="#000" stroke-width="0.6"/>
<text x="273.7" y="460.05" text-anchor="end" font-size="4.3" font-weight="bold">2</text>
<line x1="275.6" y1="449.6" x2="277.1" y2="449.6" stroke="#000" stroke-width="0.6"/>
<text x="273.7" y="451.2" text-anchor="end" font-size="4.3" font-weight="bold">3</text>
<line x1="275.6" y1="440.75" x2="277.1" y2="440.75" stroke="#000" stroke-width="0.6"/>
<text x="273.7" y="442.35" text-anchor="end" font-size="4.3" font-weight="bold">4</text>
<line x1="275.6" y1="431.9" x2="277.1" y2="431.9" stroke="#000" stroke-width="0.6"/>
<text x="273.7" y="433.5" text-anchor="end" font-size="4.3" font-weight="bold">5</text>
<line x1="275.6" y1="423.05" x2="277.1" y2="423.05" stroke="#000" stroke-width="0.6"/>
<text x="273.7" y="424.65" text-anchor="end" font-size="4.3" font-weight="bold">6</text>
<line x1="275.6" y1="414.2" x2="277.1" y2="414.2" stroke="#000" stroke-width="0.6"/>
<text x="273.7" y="415.8" text-anchor="end" font-size="4.3" font-weight="bold">7</text>
<line x1="275.6" y1="405.35" x2="277.1" y2="405.35" stroke="#000" stroke-width="0.6"/>
<text x="273.7" y="406.95" text-anchor="end" font-size="4.3" font-weight="bold">8</text>
<line x1="275.6" y1="396.5" x2="277.1" y2="396.5" stroke="#000" stroke-width="0.6"/>
<text x="273.7" y="398.1" text-anchor="end" font-size="4.3" font-weight="bold">9</text>
<text x="281.84" y="485" text-anchor="middle" font-size="4.3" font-weight="bold">1</text>
<text x="291.33" y="485" text-anchor="middle" font-size="4.3" font-weight="bold">2</text>
<text x="300.81" y="485" text-anchor="middle" font-size="4.3" font-weight="bold">3</text>
<text x="310.29" y="485" text-anchor="middle" font-size="4.3" font-weight="bold">4</text>
<text x="319.78" y="485" text-anchor="middle" font-size="4.3" font-weight="bold">5a</text>
<text x="329.26" y="485" text-anchor="middle" font-size="4.3" font-weight="bold">5b</text>
<text x="338.75" y="485" text-anchor="middle" font-size="4.3" font-weight="bold">6</text>
<text x="348.23" y="485" text-anchor="middle" font-size="4.3" font-weight="bold">7</text>
<text x="357.71" y="485" text-anchor="middle" font-size="4.3" font-weight="bold">8</text>
<text x="367.2" y="485" text-anchor="middle" font-size="4.3" font-weight="bold">9</text>
<text x="376.68" y="485" text-anchor="middle" font-size="4.3" font-weight="bold">10</text>
<text x="386.17" y="485" text-anchor="middle" font-size="4.3" font-weight="bold">11</text>
<text x="395.65" y="485" text-anchor="middle" font-size="4.3" font-weight="bold">12</text>
<text x="405.13" y="485" text-anchor="middle" font-size="4.3" font-weight="bold">13</text>
<text x="414.62" y="485" text-anchor="middle" font-size="4.3" font-weight="bold">14</text>
<text x="424.1" y="485" text-anchor="middle" font-size="4.3" font-weight="bold">15</text>
<text x="433.59" y="485" text-anchor="middle" font-size="4.3" font-weight="bold">16</text>
<text x="443.07" y="485" text-anchor="middle" font-size="4.3" font-weight="bold">17</text>
<text x="452.55" y="485" text-anchor="middle" font-size="4.3" font-weight="bold">18</text>
<text x="462.04" y="485" text-anchor="middle" font-size="4.3" font-weight="bold">19</text>
<text x="471.52" y="485" text-anchor="middle" font-size="4.3" font-weight="bold">20</text>
<text x="481.01" y="485" text-anchor="middle" font-size="4.3" font-weight="bold">21</text>
<text x="490.49" y="485" text-anchor="middle" font-size="4.3" font-weight="bold">22</text>
<text x="499.97" y="485" text-anchor="middle" font-size="4.3" font-weight="bold">23</text>
<text x="509.46" y="485" text-anchor="middle" font-size="4.3" font-weight="bold">24</text>
<text x="401.9" y="490.9" text-anchor="middle" font-size="4.6" font-weight="bold">BV gene family</text>
<text x="269" y="439" text-anchor="middle" font-size="5.3" font-weight="bold" transform="rotate(-90 269 439)">usage frequency (%)</text>
<text x="284.25" y="391.3" font-size="5.6" font-weight="bold">Patient 4: CD8</text>
<rect x="492.4" y="400.15" width="3.2" height="3.2" fill="#000"/>
<rect x="492.85" y="408.7" width="2.3" height="2.3" fill="#eee" stroke="#000" stroke-width="0.95"/>
<text x="496.8" y="403.55" font-size="4.35" font-weight="bold">IUT 1</text>
<text x="496.8" y="411.65" font-size="4.35" font-weight="bold">CB</text></g>
<g transform="translate(397.7 557.15) matrix(1 -0.0037 0.0022 1 0 0) translate(-397.7 -557.15)"><rect x="282" y="563.91" width="3" height="30.79" fill="#000"/>
<rect x="285" y="561.66" width="3" height="33.04" fill="#2a2a2a"/>
<rect x="286" y="562.66" width="1" height="32.04" fill="#d8d8d8"/>
<rect x="292" y="559.4" width="3" height="35.3" fill="#000"/>
<rect x="295" y="557.53" width="3" height="37.17" fill="#2a2a2a"/>
<rect x="296" y="558.53" width="1" height="36.17" fill="#d8d8d8"/>
<rect x="301" y="551.14" width="3" height="43.56" fill="#000"/>
<rect x="304" y="549.64" width="3" height="45.06" fill="#2a2a2a"/>
<rect x="305" y="550.64" width="1" height="44.06" fill="#d8d8d8"/>
<rect x="310" y="557.53" width="3" height="37.17" fill="#000"/>
<rect x="313" y="562.03" width="3" height="32.67" fill="#2a2a2a"/>
<rect x="314" y="563.03" width="1" height="31.67" fill="#d8d8d8"/>
<rect x="320" y="557.53" width="3" height="37.17" fill="#000"/>
<rect x="323" y="561.28" width="3" height="33.42" fill="#2a2a2a"/>
<rect x="324" y="562.28" width="1" height="32.42" fill="#d8d8d8"/>
<rect x="329" y="550.02" width="3" height="44.68" fill="#000"/>
<rect x="332" y="545.88" width="3" height="48.82" fill="#2a2a2a"/>
<rect x="333" y="546.88" width="1" height="47.82" fill="#d8d8d8"/>
<rect x="338" y="529.36" width="3" height="65.34" fill="#000"/>
<rect x="341" y="522.98" width="3" height="71.72" fill="#2a2a2a"/>
<rect x="342" y="523.98" width="1" height="70.72" fill="#d8d8d8"/>
<rect x="348" y="539.5" width="3" height="55.2" fill="#000"/>
<rect x="351" y="538.38" width="3" height="56.33" fill="#2a2a2a"/>
<rect x="352" y="539.38" width="1" height="55.33" fill="#d8d8d8"/>
<rect x="357" y="539.5" width="3" height="55.2" fill="#000"/>
<rect x="360" y="538.38" width="3" height="56.33" fill="#2a2a2a"/>
<rect x="361" y="539.38" width="1" height="55.33" fill="#d8d8d8"/>
<rect x="367" y="571.79" width="3" height="22.91" fill="#000"/>
<rect x="370" y="583.06" width="3" height="11.64" fill="#2a2a2a"/>
<rect x="371" y="584.06" width="1" height="10.64" fill="#d8d8d8"/>
<rect x="376" y="580.43" width="3" height="14.27" fill="#000"/>
<rect x="379" y="588.32" width="3" height="6.38" fill="#2a2a2a"/>
<rect x="380" y="589.32" width="1" height="5.38" fill="#d8d8d8"/>
<rect x="385" y="576.3" width="3" height="18.4" fill="#000"/>
<rect x="388" y="587.19" width="3" height="7.51" fill="#2a2a2a"/>
<rect x="389" y="588.19" width="1" height="6.51" fill="#d8d8d8"/>
<rect x="395" y="555.65" width="3" height="39.05" fill="#000"/>
<rect x="398" y="559.4" width="3" height="35.3" fill="#2a2a2a"/>
<rect x="399" y="560.4" width="1" height="34.3" fill="#d8d8d8"/>
<rect x="404" y="550.39" width="3" height="44.31" fill="#000"/>
<rect x="407" y="543.63" width="3" height="51.07" fill="#2a2a2a"/>
<rect x="408" y="544.63" width="1" height="50.07" fill="#d8d8d8"/>
<rect x="413" y="555.65" width="3" height="39.05" fill="#000"/>
<rect x="416" y="541.38" width="3" height="53.32" fill="#2a2a2a"/>
<rect x="417" y="542.38" width="1" height="52.32" fill="#d8d8d8"/>
<rect x="423" y="578.18" width="3" height="16.52" fill="#000"/>
<rect x="426" y="589.44" width="3" height="5.26" fill="#2a2a2a"/>
<rect x="427" y="590.44" width="1" height="4.26" fill="#d8d8d8"/>
<rect x="432" y="582.68" width="3" height="12.02" fill="#000"/>
<rect x="435" y="588.32" width="3" height="6.38" fill="#2a2a2a"/>
<rect x="436" y="589.32" width="1" height="5.38" fill="#d8d8d8"/>
<rect x="442" y="572.17" width="3" height="22.53" fill="#000"/>
<rect x="445" y="569.54" width="3" height="25.16" fill="#2a2a2a"/>
<rect x="446" y="570.54" width="1" height="24.16" fill="#d8d8d8"/>
<rect x="451" y="579.68" width="3" height="15.02" fill="#000"/>
<rect x="454" y="589.07" width="3" height="5.63" fill="#2a2a2a"/>
<rect x="455" y="590.07" width="1" height="4.63" fill="#d8d8d8"/>
<rect x="460" y="558.28" width="3" height="36.42" fill="#000"/>
<rect x="463" y="539.88" width="3" height="54.82" fill="#2a2a2a"/>
<rect x="464" y="540.88" width="1" height="53.82" fill="#d8d8d8"/>
<rect x="470" y="591.32" width="3" height="3.38" fill="#000"/>
<rect x="473" y="593.95" width="3" height="0.75" fill="#333"/>
<rect x="479" y="590.19" width="3" height="4.51" fill="#000"/>
<rect x="482" y="591.32" width="3" height="3.38" fill="#2a2a2a"/>
<rect x="483" y="592.32" width="1" height="2.38" fill="#d8d8d8"/>
<rect x="488" y="574.8" width="3" height="19.9" fill="#000"/>
<rect x="491" y="566.16" width="3" height="28.54" fill="#2a2a2a"/>
<rect x="492" y="567.16" width="1" height="27.54" fill="#d8d8d8"/>
<rect x="498" y="574.42" width="3" height="20.28" fill="#000"/>
<rect x="501" y="569.92" width="3" height="24.78" fill="#2a2a2a"/>
<rect x="502" y="570.92" width="1" height="23.78" fill="#d8d8d8"/>
<rect x="507" y="583.06" width="3" height="11.64" fill="#000"/>
<rect x="510" y="586.44" width="3" height="8.26" fill="#2a2a2a"/>
<rect x="511" y="587.44" width="1" height="7.26" fill="#d8d8d8"/>
<rect x="280.6" y="519.6" width="234.2" height="75.1" fill="none" stroke="#000" stroke-width="1.4"/>
<line x1="279.1" y1="594.7" x2="280.6" y2="594.7" stroke="#000" stroke-width="0.6"/>
<text x="277.2" y="596.3" text-anchor="end" font-size="4.3" font-weight="bold">0</text>
<line x1="279.1" y1="587.19" x2="280.6" y2="587.19" stroke="#000" stroke-width="0.6"/>
<text x="277.2" y="588.79" text-anchor="end" font-size="4.3" font-weight="bold">1</text>
<line x1="279.1" y1="579.68" x2="280.6" y2="579.68" stroke="#000" stroke-width="0.6"/>
<text x="277.2" y="581.28" text-anchor="end" font-size="4.3" font-weight="bold">2</text>
<line x1="279.1" y1="572.17" x2="280.6" y2="572.17" stroke="#000" stroke-width="0.6"/>
<text x="277.2" y="573.77" text-anchor="end" font-size="4.3" font-weight="bold">3</text>
<line x1="279.1" y1="564.66" x2="280.6" y2="564.66" stroke="#000" stroke-width="0.6"/>
<text x="277.2" y="566.26" text-anchor="end" font-size="4.3" font-weight="bold">4</text>
<line x1="279.1" y1="557.15" x2="280.6" y2="557.15" stroke="#000" stroke-width="0.6"/>
<text x="277.2" y="558.75" text-anchor="end" font-size="4.3" font-weight="bold">5</text>
<line x1="279.1" y1="549.64" x2="280.6" y2="549.64" stroke="#000" stroke-width="0.6"/>
<text x="277.2" y="551.24" text-anchor="end" font-size="4.3" font-weight="bold">6</text>
<line x1="279.1" y1="542.13" x2="280.6" y2="542.13" stroke="#000" stroke-width="0.6"/>
<text x="277.2" y="543.73" text-anchor="end" font-size="4.3" font-weight="bold">7</text>
<line x1="279.1" y1="534.62" x2="280.6" y2="534.62" stroke="#000" stroke-width="0.6"/>
<text x="277.2" y="536.22" text-anchor="end" font-size="4.3" font-weight="bold">8</text>
<line x1="279.1" y1="527.11" x2="280.6" y2="527.11" stroke="#000" stroke-width="0.6"/>
<text x="277.2" y="528.71" text-anchor="end" font-size="4.3" font-weight="bold">9</text>
<line x1="279.1" y1="519.6" x2="280.6" y2="519.6" stroke="#000" stroke-width="0.6"/>
<text x="277.2" y="521.2" text-anchor="end" font-size="4.3" font-weight="bold">10</text>
<text x="285.28" y="603.75" text-anchor="middle" font-size="4.3" font-weight="bold">1</text>
<text x="294.65" y="603.75" text-anchor="middle" font-size="4.3" font-weight="bold">2</text>
<text x="304.02" y="603.75" text-anchor="middle" font-size="4.3" font-weight="bold">3</text>
<text x="313.39" y="603.75" text-anchor="middle" font-size="4.3" font-weight="bold">4</text>
<text x="322.76" y="603.75" text-anchor="middle" font-size="4.3" font-weight="bold">5a</text>
<text x="332.12" y="603.75" text-anchor="middle" font-size="4.3" font-weight="bold">5b</text>
<text x="341.49" y="603.75" text-anchor="middle" font-size="4.3" font-weight="bold">6</text>
<text x="350.86" y="603.75" text-anchor="middle" font-size="4.3" font-weight="bold">7</text>
<text x="360.23" y="603.75" text-anchor="middle" font-size="4.3" font-weight="bold">8</text>
<text x="369.6" y="603.75" text-anchor="middle" font-size="4.3" font-weight="bold">9</text>
<text x="378.96" y="603.75" text-anchor="middle" font-size="4.3" font-weight="bold">10</text>
<text x="388.33" y="603.75" text-anchor="middle" font-size="4.3" font-weight="bold">11</text>
<text x="397.7" y="603.75" text-anchor="middle" font-size="4.3" font-weight="bold">12</text>
<text x="407.07" y="603.75" text-anchor="middle" font-size="4.3" font-weight="bold">13</text>
<text x="416.44" y="603.75" text-anchor="middle" font-size="4.3" font-weight="bold">14</text>
<text x="425.8" y="603.75" text-anchor="middle" font-size="4.3" font-weight="bold">15</text>
<text x="435.17" y="603.75" text-anchor="middle" font-size="4.3" font-weight="bold">16</text>
<text x="444.54" y="603.75" text-anchor="middle" font-size="4.3" font-weight="bold">17</text>
<text x="453.91" y="603.75" text-anchor="middle" font-size="4.3" font-weight="bold">18</text>
<text x="463.28" y="603.75" text-anchor="middle" font-size="4.3" font-weight="bold">19</text>
<text x="472.64" y="603.75" text-anchor="middle" font-size="4.3" font-weight="bold">20</text>
<text x="482.01" y="603.75" text-anchor="middle" font-size="4.3" font-weight="bold">21</text>
<text x="491.38" y="603.75" text-anchor="middle" font-size="4.3" font-weight="bold">22</text>
<text x="500.75" y="603.75" text-anchor="middle" font-size="4.3" font-weight="bold">23</text>
<text x="510.12" y="603.75" text-anchor="middle" font-size="4.3" font-weight="bold">24</text>
<text x="403.5" y="610.3" text-anchor="middle" font-size="4.6" font-weight="bold">BV gene family</text>
<text x="268.2" y="556.5" text-anchor="middle" font-size="4.7" font-weight="bold" transform="rotate(-90 268.2 556.5)">usage frequency (%)</text>
<text x="286.75" y="514" font-size="5.6" font-weight="bold">Patient 5: CD8</text>
<rect x="490.4" y="526.6" width="3.2" height="3.2" fill="#000"/>
<rect x="490.85" y="535.15" width="2.3" height="2.3" fill="#eee" stroke="#000" stroke-width="0.95"/>
<text x="494.8" y="530" font-size="4.35" font-weight="bold">IUT 1</text>
<text x="494.8" y="538.1" font-size="4.35" font-weight="bold">IUT 3</text></g>
</g></svg></div>
</body></html>
